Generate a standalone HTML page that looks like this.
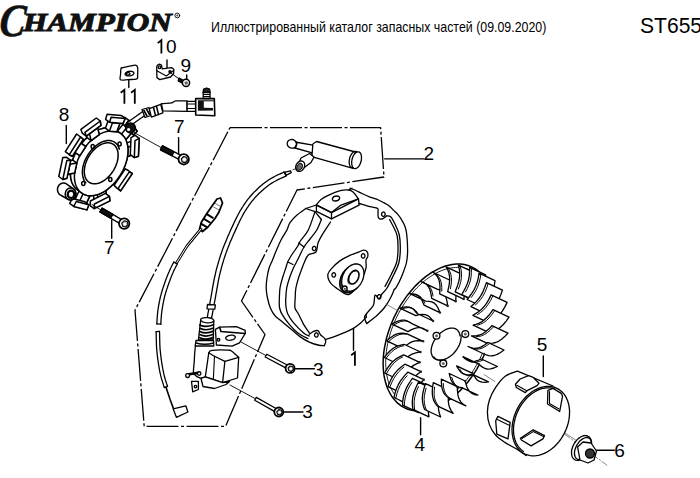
<!DOCTYPE html>
<html><head><meta charset="utf-8">
<style>
html,body{margin:0;padding:0;background:#fff;}
body{width:700px;height:478px;position:relative;overflow:hidden;font-family:"Liberation Sans",sans-serif;color:#000;}
.t{position:absolute;white-space:nowrap;line-height:1;}
.lg{position:absolute;font-family:"Liberation Serif",serif;font-style:italic;font-weight:bold;white-space:nowrap;line-height:1;color:#111;-webkit-text-stroke:1px #111;}
#c1{left:2px;top:-2px;font-size:46px;transform-origin:0 0;transform:scaleX(0.85) skewX(-6deg);-webkit-text-stroke:0.6px #111;}
#c2{left:23px;top:9.7px;font-size:26px;transform-origin:0 0;transform:scaleX(1.198);}
#reg{position:absolute;left:175px;top:12px;font-size:7px;}
#hdr{left:210.6px;top:19.8px;font-size:14.6px;transform-origin:0 0;transform:scaleX(0.848);}
#st{left:640px;top:16px;font-size:21.4px;transform-origin:0 0;transform:scaleX(0.985);}
.n{position:absolute;font-size:19px;line-height:1;}
svg{position:absolute;left:0;top:0;}
</style></head><body>
<div class="lg" id="c1">C</div><div class="lg" id="c2">HAMPION</div>
<div class="t" id="hdr">Иллюстрированный каталог запасных частей (09.09.2020)</div>
<div class="t" id="st">ST655</div>
<div class="n" style="left:166px;top:37px">0</div>
<div class="n" style="left:180.6px;top:56.2px">9</div>
<div class="n" style="left:58.8px;top:105.2px">8</div>
<div class="n" style="left:174px;top:117px">7</div>
<div class="n" style="left:103.9px;top:238.3px">7</div>
<div class="n" style="left:423.5px;top:143.9px">2</div>
<div class="n" style="left:312.9px;top:360.4px">3</div>
<div class="n" style="left:302.2px;top:401.8px">3</div>
<div class="n" style="left:536.8px;top:334.9px">5</div>
<div class="n" style="left:414.4px;top:435.3px">4</div>
<div class="n" style="left:614.3px;top:441.1px">6</div>
<svg width="700" height="478" viewBox="0 0 700 478" fill="none" stroke="#000" stroke-width="1.3" stroke-linecap="round" stroke-linejoin="round">
<path d="M230 127.7 L380.6 127.7 L384 177 L297 190 L241.5 301 L265 334.5 L225.5 426.4 L144.2 426.4 L135 310.2 Z" stroke-dasharray="32 2.5 3 2.5" stroke-width="1.3" stroke-linecap="butt"/>
<g stroke-width="1.4">
<path d="M167 60 V67.5"/><path d="M186.7 75 V79"/><path d="M128.8 80 V87.5"/><path d="M66.3 125.5 V143.5"/>
<path d="M178.6 137.6 V155"/><path d="M111.7 220 V238.3"/><path d="M384.7 158.9 H424"/>
<path d="M295.2 368.8 H314.4"/><path d="M283.5 412 H303"/><path d="M353.5 328.4 V350.3"/>
<path d="M543.3 356 V376.6"/><path d="M420.6 417.7 V434.8"/><path d="M594.7 450.3 H614.3"/>
</g>
<path d="M157.7 43.1 L161.4 40.2 V53.4" stroke-width="1.8" stroke-linecap="butt" stroke-linejoin="miter"/><path d="M120.7 92.8 L124.4 89.9 V103.7" stroke-width="1.8" stroke-linecap="butt" stroke-linejoin="miter"/><path d="M131.1 92.8 L134.8 89.9 V103.7" stroke-width="1.8" stroke-linecap="butt" stroke-linejoin="miter"/><path d="M351.2 355.3 L354.9 352.4 V365.7" stroke-width="1.8" stroke-linecap="butt" stroke-linejoin="miter"/>
<circle cx="177.3" cy="15.5" r="2.4" stroke-width="0.9"/><circle cx="177.3" cy="15.5" r="0.9" fill="#333" stroke="none"/>
<g stroke-width="1.3"><path d="M350.0 188.2 C351.0 188.6 354.0 189.6 356.0 190.5 C358.0 191.4 359.7 192.4 362.0 193.5 C364.3 194.6 367.3 196.0 370.0 197.1 C372.7 198.2 375.9 198.9 378.4 200.0 C380.9 201.1 383.3 202.4 385.1 203.4 C386.9 204.4 387.8 204.8 389.2 205.9 C390.6 207.0 392.0 208.7 393.4 210.1 C394.8 211.5 396.2 212.5 397.6 214.2 C399.0 215.9 400.6 218.0 401.8 220.1 C403.1 222.2 404.3 224.3 405.1 226.8 C405.9 229.3 406.4 231.1 406.8 235.0 C407.2 238.9 407.6 245.5 407.6 250.0 C407.6 254.5 407.3 258.4 406.6 262.0 C405.9 265.6 404.7 268.4 403.5 271.7 C402.3 275.0 400.6 279.0 399.3 281.8 C398.0 284.6 396.1 287.4 395.5 288.5" /><path d="M394.3 289.3 C393.7 290.8 392.1 295.0 390.5 298.0 C388.9 301.0 386.6 304.8 384.5 307.5 C382.4 310.2 380.1 312.5 378.0 314.5 C375.9 316.5 373.9 318.0 372.0 319.5 C370.1 321.0 367.6 322.9 366.7 323.6" /><path d="M395.5 288.5 L394.3 289.3" /><path d="M386.7 215.9 C387.4 216.1 389.5 215.6 390.9 217.0 C392.3 218.4 393.7 221.3 395.1 224.3 C396.5 227.3 398.4 230.7 399.3 235.0 C400.2 239.3 400.4 245.3 400.3 250.0 C400.2 254.7 399.9 258.8 398.8 263.0 C397.7 267.2 395.6 270.8 393.6 275.0 C391.6 279.2 389.0 284.8 387.0 288.0 C385.0 291.2 382.4 293.4 381.5 294.5" /><path d="M389.6 219.5 C390.2 220.7 392.0 223.8 393.3 226.5 C394.6 229.2 396.4 232.1 397.2 236.0 C398.0 239.9 398.1 245.6 398.0 250.0 C397.9 254.4 397.7 258.5 396.6 262.5 C395.5 266.5 393.4 270.0 391.5 274.0 C389.6 278.0 386.1 284.4 385.0 286.5" /><path d="M359.0 203.5 C360.8 204.0 366.9 205.9 370.0 206.7 C373.1 207.5 376.2 207.5 377.5 208.4 C378.8 209.3 377.9 210.5 378.0 212.0 C378.1 213.5 377.7 216.4 378.4 217.6 C379.1 218.8 380.6 219.3 382.0 219.0 C383.4 218.7 385.9 216.4 386.7 215.9" /><path d="M381.5 294.5 C381.1 295.2 380.1 298.7 379.0 298.8 C377.9 298.9 375.9 294.1 375.0 295.2 C374.1 296.3 374.8 302.1 373.4 305.2 C372.0 308.2 367.9 311.5 366.7 313.5 C365.5 315.5 366.4 316.5 366.4 317.1" /><path d="M366.7 313.5 C366.3 314.2 364.5 315.8 364.5 317.5 C364.5 319.2 366.3 322.6 366.7 323.6" /><path d="M305.8 208.5 C304.3 209.6 299.6 212.7 297.0 215.0 C294.4 217.3 291.7 220.1 290.0 222.6 C288.3 225.1 288.4 227.1 286.9 230.0 C285.4 232.9 282.7 236.7 281.0 240.0 C279.3 243.3 277.9 246.7 276.5 250.0 C275.1 253.3 273.7 257.0 272.5 260.0 C271.3 263.0 270.0 265.0 269.1 268.0 C268.2 271.0 267.5 274.7 267.0 278.0 C266.5 281.3 266.1 284.7 266.2 288.0 C266.3 291.3 266.8 294.7 267.5 298.0 C268.2 301.3 269.1 305.1 270.4 308.0 C271.6 310.9 272.8 313.2 275.0 315.7 C277.2 318.2 280.8 320.5 283.6 322.9 C286.5 325.3 289.2 327.6 292.1 330.0 C295.0 332.4 297.8 335.1 300.7 337.1 C303.6 339.1 306.4 340.8 309.3 342.1 C312.2 343.4 315.4 344.4 317.9 345.0 C320.4 345.6 323.2 345.6 324.3 345.7" /><path d="M315.0 211.6 C313.9 214.7 310.6 225.3 308.3 230.0 C306.0 234.7 302.8 237.3 301.0 240.0 C299.2 242.7 299.3 243.6 297.6 246.3 C295.9 249.0 292.6 253.4 291.0 256.0 C289.4 258.6 288.6 260.0 287.7 262.0 C286.8 264.0 286.7 265.3 285.8 268.0 C284.9 270.7 283.5 274.7 282.5 278.0 C281.5 281.3 280.5 284.3 280.0 288.0 C279.5 291.7 279.4 296.7 279.3 300.0 C279.2 303.3 279.1 305.6 279.6 308.0 C280.1 310.4 280.5 311.6 282.1 314.3 C283.7 317.0 286.7 321.2 289.3 324.3 C291.9 327.4 294.8 330.5 297.9 332.9 C301.0 335.3 306.2 337.7 307.9 338.6" /><path d="M321.4 219.5 C320.6 221.2 318.7 226.8 316.8 230.0 C314.9 233.2 312.1 236.2 310.0 239.0 C307.9 241.8 305.8 244.0 304.0 247.0 C302.2 250.0 300.3 254.3 299.0 257.0 C297.7 259.7 296.9 261.2 296.0 263.0 C295.1 264.8 294.5 265.5 293.4 268.0 C292.3 270.5 290.6 274.7 289.5 278.0 C288.4 281.3 287.3 284.3 286.7 288.0 C286.1 291.7 285.8 296.7 285.7 300.0 C285.6 303.3 285.8 305.6 286.2 308.0 C286.6 310.4 286.7 311.8 287.9 314.3 C289.1 316.8 291.0 319.8 293.6 322.9 C296.2 326.0 301.0 330.7 303.6 332.9 C306.2 335.1 308.4 335.5 309.3 336.0" /><path d="M330.5 222.0 C329.1 224.2 324.1 231.6 322.0 235.1 C319.9 238.6 319.0 240.2 318.0 243.0 C317.0 245.8 317.6 250.0 316.0 252.0 C314.4 254.0 310.2 253.2 308.3 254.9 C306.4 256.6 305.5 259.8 304.5 262.0 C303.5 264.2 303.1 265.3 302.1 268.0 C301.1 270.7 299.5 274.7 298.5 278.0 C297.5 281.3 296.4 284.7 295.9 288.0 C295.3 291.3 295.3 294.7 295.2 298.0 C295.1 301.3 294.4 305.3 295.0 308.0 C295.6 310.7 297.2 311.6 298.6 314.3 C300.0 317.0 301.8 321.2 303.6 324.3 C305.4 327.4 308.4 331.5 309.3 332.9" /><path d="M298.8 242.9 L304 247 M287.7 262 L293 264.5" /><path d="M305.8 208.5 L315 211.6 L321.4 219.5" /><path d="M309.3 334.3 C310.0 333.8 312.2 332.0 313.6 331.4 C315.0 330.8 316.7 330.1 317.9 330.7 C319.1 331.3 319.6 333.8 320.7 335.0 C321.8 336.2 323.5 336.8 324.3 337.9 C325.1 339.0 325.7 340.1 325.7 341.4 C325.7 342.7 324.5 345.0 324.3 345.7" /><path d="M325.7 339.3 C327.2 338.8 332.0 337.5 335.0 336.4 C338.0 335.3 340.6 334.2 343.6 332.9 C346.6 331.6 350.0 330.3 352.9 328.6 C355.8 326.9 358.4 324.8 360.7 322.9 C362.9 321.0 365.4 318.1 366.4 317.1" /><path d="M316.4 211.4 L331.5 218.9 L359.1 205.1 L358.5 198.8 L331.5 212.6 L316.4 205.1 Z" /><path d="M316.4 204.8 C317.2 203.9 319.1 201.0 321.0 199.5 C322.9 198.0 324.5 197.2 327.7 195.7 C330.9 194.2 336.8 191.6 340.3 190.7 C343.9 189.8 346.8 189.7 349.0 190.0 C351.2 190.3 352.2 191.4 353.5 192.5 C354.8 193.6 355.8 195.2 356.6 196.3 C357.4 197.4 358.2 198.4 358.5 198.8 L340.3 205.4 L331.5 212.6 Z" /><path d="M331.5 212.6 L331.5 218.9" /><path d="M336 198.5 m-3.6 0 a3.6 2.3 -15 1 0 7.2 0 a3.6 2.3 -15 1 0 -7.2 0" /><path d="M305.8 208.5 L316.4 205.0" /><path d="M349.0 190.0 L352.0 188.2" /><path d="M328.0 273.8 C328.5 272.0 329.6 270.7 331.5 268.6 C333.4 266.5 336.5 263.3 339.6 261.1 C342.7 258.9 346.6 256.9 349.9 255.4 C353.1 253.9 356.8 252.8 359.1 251.9 C361.4 251.0 362.4 250.2 363.7 250.2 C365.0 250.2 366.5 250.8 367.2 251.9 C367.9 253.0 368.0 255.2 367.8 256.5 C367.6 257.9 366.3 258.1 366.0 260.0 C365.7 261.9 366.6 265.1 366.0 268.0 C365.4 270.9 364.1 274.3 362.6 277.2 C361.1 280.1 358.3 283.0 356.8 285.3 C355.3 287.6 354.7 289.5 353.4 291.0 C352.1 292.5 350.3 294.1 348.8 294.5 C347.3 294.9 346.1 294.3 344.2 293.3 C342.3 292.3 339.4 290.2 337.3 288.7 C335.2 287.2 332.9 285.6 331.5 284.1 C330.1 282.6 329.2 281.2 328.6 279.5 C328.0 277.8 327.5 275.6 328.0 273.8 Z" /><path d="M335.6 274.9 L335.4 275.8 L335.0 276.5 L334.4 277.0 L333.6 277.1 L332.9 276.8 L332.3 276.2 L332.0 275.4 L332.0 274.4 L332.3 273.6 L332.9 273.0 L333.6 272.7 L334.4 272.8 L335.0 273.3 L335.4 274.0 L335.6 274.9 Z" /><path d="M365.0 255.9 L364.8 256.8 L364.4 257.5 L363.8 258.0 L363.0 258.1 L362.3 257.8 L361.7 257.2 L361.4 256.4 L361.4 255.4 L361.7 254.6 L362.3 254.0 L363.0 253.7 L363.8 253.8 L364.4 254.3 L364.8 255.0 L365.0 255.9 Z" /><path d="M346.5 288.2 L346.3 289.1 L345.9 289.8 L345.3 290.3 L344.5 290.4 L343.8 290.1 L343.2 289.5 L342.9 288.7 L342.9 287.7 L343.2 286.9 L343.8 286.3 L344.5 286.0 L345.3 286.1 L345.9 286.6 L346.3 287.3 L346.5 288.2 Z" /><path d="M316.0 248.5 L315.8 249.4 L315.4 250.1 L314.8 250.6 L314.0 250.7 L313.3 250.4 L312.7 249.8 L312.4 249.0 L312.4 248.0 L312.7 247.2 L313.3 246.6 L314.0 246.3 L314.8 246.4 L315.4 246.9 L315.8 247.6 L316.0 248.5 Z" /><path d="M385.2 214.2 L385.0 215.1 L384.6 215.8 L384.0 216.3 L383.2 216.4 L382.5 216.1 L381.9 215.5 L381.6 214.7 L381.6 213.7 L381.9 212.9 L382.5 212.3 L383.2 212.0 L384.0 212.1 L384.6 212.6 L385.0 213.3 L385.2 214.2 Z" /><path d="M381.0 296.8 L380.8 297.7 L380.4 298.4 L379.8 298.9 L379.0 299.0 L378.3 298.7 L377.7 298.1 L377.4 297.3 L377.4 296.3 L377.7 295.5 L378.3 294.9 L379.0 294.6 L379.8 294.7 L380.4 295.2 L380.8 295.9 L381.0 296.8 Z" /><path d="M318.2 335.0 L318.0 335.9 L317.6 336.6 L317.0 337.1 L316.2 337.2 L315.5 336.9 L314.9 336.3 L314.6 335.5 L314.6 334.5 L314.9 333.7 L315.5 333.1 L316.2 332.8 L317.0 332.9 L317.6 333.4 L318.0 334.1 L318.2 335.0 Z" /></g>
<g stroke-width="1.3"><path d="M359.6 284.0 L358.7 285.6 L357.6 287.1 L356.4 288.5 L355.2 289.7 L353.8 290.7 L352.4 291.6 L351.0 292.2 L349.6 292.7 L348.1 292.9 L346.8 292.9 L345.5 292.7 L344.3 292.2 L343.2 291.6 L342.2 290.7 L341.4 289.7 L340.7 288.5 L340.2 287.1 L339.8 285.6 L339.7 284.0 L339.7 282.3 L339.9 280.6 L340.3 278.9 L340.8 277.1 L341.6 275.4 L342.4 273.8 L343.4 272.2 L344.6 270.8 L345.8 269.5 L347.1 268.4 L348.5 267.4 L349.9 266.7 L351.3 266.1 L352.8 265.8 L354.1 265.7 L355.5 265.8 L356.7 266.1 L357.9 266.7 L358.9 267.4 L359.8 268.4 L360.6 269.5 L361.2 270.8 L361.6 272.2 L361.9 273.8 L361.9 275.4 L361.8 277.1 L361.5 278.8 L361.1 280.6 L360.4 282.3 L359.6 284.0 Z" fill="#444"/><path d="M361.6 282.2 L360.7 283.8 L359.6 285.3 L358.4 286.7 L357.2 287.9 L355.8 288.9 L354.4 289.8 L353.0 290.4 L351.6 290.9 L350.1 291.1 L348.8 291.1 L347.5 290.9 L346.3 290.4 L345.2 289.8 L344.2 288.9 L343.4 287.9 L342.7 286.7 L342.2 285.3 L341.8 283.8 L341.7 282.2 L341.7 280.5 L341.9 278.8 L342.3 277.1 L342.8 275.3 L343.6 273.6 L344.4 272.0 L345.4 270.4 L346.6 269.0 L347.8 267.7 L349.1 266.6 L350.5 265.6 L351.9 264.9 L353.3 264.3 L354.8 264.0 L356.1 263.9 L357.5 264.0 L358.7 264.3 L359.9 264.9 L360.9 265.6 L361.8 266.6 L362.6 267.7 L363.2 269.0 L363.6 270.4 L363.9 272.0 L363.9 273.6 L363.8 275.3 L363.5 277.0 L363.1 278.8 L362.4 280.5 L361.6 282.2 Z" fill="#fff"/><path d="M358.0 279.1 L357.4 280.2 L356.8 281.1 L356.1 282.0 L355.3 282.7 L354.5 283.3 L353.7 283.7 L352.8 283.9 L352.0 284.0 L351.3 283.9 L350.6 283.6 L350.0 283.2 L349.5 282.6 L349.1 281.9 L348.8 281.0 L348.7 280.1 L348.7 279.0 L348.8 278.0 L349.0 276.9 L349.4 275.8 L349.9 274.7 L350.5 273.8 L351.2 272.9 L351.9 272.1 L352.7 271.4 L353.5 270.9 L354.4 270.6 L355.2 270.4 L355.9 270.4 L356.7 270.6 L357.3 271.0 L357.9 271.5 L358.3 272.1 L358.7 272.9 L358.9 273.8 L359.0 274.8 L358.9 275.9 L358.7 277.0 L358.4 278.1 L358.0 279.1 Z" fill="#fff" stroke-width="1.6"/><path d="M349.3 284.1 L348.8 283.6 L348.4 282.9 L348.1 282.2 L347.9 281.4 L347.8 280.5 L347.9 279.5 L348.0 278.5 L348.3 277.5 L348.6 276.5 L349.1 275.6 L349.6 274.7 L350.2 273.8 L350.9 273.1 L351.6 272.5 L352.3 271.9 L353.1 271.5 L353.8 271.3 L354.6 271.2 L355.3 271.2" stroke-width="1.0"/><ellipse cx="344.7" cy="288.6" rx="2.4" ry="2.6" fill="#fff" stroke-width="1.4"/><ellipse cx="344.9" cy="288.8" rx="1" ry="1.1" fill="#444" stroke="none"/></g>
<g stroke-width="1.2"><path d="M482.5 358.5 L481.1 361.3 L479.7 364.0 L478.2 366.7 L476.7 369.3 L475.1 371.9 L473.4 374.4 L471.7 376.9 L469.9 379.3 L468.1 381.7 L466.2 384.0 L464.3 386.2 L462.3 388.3 L460.3 390.4 L458.3 392.3 L456.2 394.2 L454.2 396.0 L452.0 397.7 L449.9 399.4 L447.8 400.9 L445.6 402.3 L443.4 403.6 L441.2 404.8 L439.1 405.9 L436.9 406.9 L434.7 407.8 L432.5 408.6 L430.3 409.3 L428.2 409.8 L426.0 410.3 L423.9 410.6 L421.8 410.8 L419.7 411.0 L417.7 410.9 L415.7 410.8 L413.7 410.6 L411.8 410.2 L409.9 409.8 L408.0 409.2 L406.2 408.5 L404.5 407.7 L402.8 406.8 L401.1 405.8 L399.6 404.6 L398.0 403.4 L396.6 402.1 L395.2 400.6 L393.9 399.1 L392.6 397.5 L391.4 395.7 L390.3 393.9 L389.3 392.0 L388.3 390.0 L387.4 388.0 L386.6 385.8 L385.9 383.6 L385.3 381.3 L384.7 378.9 L384.2 376.5 L383.8 374.0 L383.5 371.5 L383.3 368.9 L383.2 366.2 L383.1 363.5 L383.2 360.8 L383.3 358.0 L383.5 355.2 L383.8 352.4 L384.2 349.5 L384.7 346.7 L385.3 343.8 L385.9 340.9 L386.6 338.0 L387.4 335.1 L388.3 332.2 L389.3 329.3 L390.3 326.4 L391.4 323.6 L392.6 320.7 L393.8 317.9 L395.2 315.1 L396.6 312.4 L398.0 309.7 L399.5 307.0 L401.1 304.4 L402.8 301.8 L404.5 299.3 L406.2 296.9 L408.0 294.5 L409.9 292.2 L411.8 289.9 L413.7 287.7 L415.7 285.6 L417.7 283.6 L419.7 281.7 L421.8 279.9 L423.9 278.1 L426.0 276.4 L428.2 274.9 L430.3 273.4 L432.5 272.0 L434.7 270.8 L436.9 269.6 L439.0 268.6 L441.2 267.6 L443.4 266.8 L445.6 266.0 L447.7 265.4 L449.9 264.9 L452.0 264.5 L454.1 264.2 L456.2 264.1 L458.3 264.0 L460.3 264.1 L462.3 264.3 L464.3 264.6 L466.2 265.0 L468.0 265.5 L469.9 266.1 L471.6 266.9 L473.4 267.8 L475.0 268.7 L476.7 269.8 L478.2 271.0 L479.7 272.3 L481.1 273.6 L482.5 275.1 L483.8 276.7 L485.0 278.4 L486.2 280.1 L487.2 282.0 L488.2 284.0 L489.2 286.0 L490.0 288.1 L490.8 290.3 L491.4 292.5 L492.0 294.9 L492.5 297.3 L493.0 299.7 L493.3 302.2 L493.6 304.8 L493.8 307.4 L493.8 310.1 L493.8 312.8 L493.8 315.6 L493.6 318.4 L493.3 321.2 L493.0 324.0 L492.6 326.9 L492.0 329.8 L491.4 332.7 L490.8 335.6 L490.0 338.5 L489.2 341.4 L488.2 344.3 L487.2 347.1 L486.2 350.0 L485.0 352.9 L483.8 355.7 L482.5 358.5 Z" fill="#fff" stroke-width="1.5"/><path d="M480.5 357.5 L479.2 360.2 L477.8 362.8 L476.4 365.3 L474.9 367.8 L473.4 370.3 L471.8 372.7 L470.1 375.1 L468.4 377.4 L466.7 379.6 L464.9 381.8 L463.1 383.9 L461.2 386.0 L459.3 387.9 L457.4 389.8 L455.4 391.6 L453.4 393.3 L451.4 395.0 L449.4 396.5 L447.3 398.0 L445.3 399.3 L443.2 400.6 L441.1 401.7 L439.0 402.8 L436.9 403.7 L434.9 404.6 L432.8 405.3 L430.7 406.0 L428.7 406.5 L426.6 406.9 L424.6 407.3 L422.6 407.5 L420.6 407.6 L418.7 407.6 L416.7 407.4 L414.9 407.2 L413.0 406.9 L411.2 406.4 L409.4 405.9 L407.7 405.2 L406.1 404.5 L404.4 403.6 L402.9 402.6 L401.4 401.5 L399.9 400.4 L398.5 399.1 L397.2 397.7 L395.9 396.3 L394.7 394.7 L393.6 393.1 L392.5 391.3 L391.5 389.5 L390.6 387.6 L389.8 385.6 L389.0 383.6 L388.3 381.5 L387.7 379.3 L387.2 377.0 L386.7 374.7 L386.4 372.3 L386.1 369.9 L385.9 367.4 L385.7 364.9 L385.7 362.3 L385.7 359.7 L385.9 357.1 L386.1 354.4 L386.4 351.7 L386.7 349.0 L387.2 346.3 L387.7 343.5 L388.3 340.7 L389.0 338.0 L389.8 335.2 L390.6 332.4 L391.5 329.7 L392.5 326.9 L393.6 324.2 L394.7 321.5 L395.9 318.8 L397.2 316.2 L398.5 313.5 L399.9 311.0 L401.3 308.4 L402.9 305.9 L404.4 303.5 L406.0 301.1 L407.7 298.7 L409.4 296.5 L411.2 294.3 L413.0 292.1 L414.8 290.0 L416.7 288.0 L418.7 286.1 L420.6 284.3 L422.6 282.5 L424.6 280.8 L426.6 279.3 L428.6 277.8 L430.7 276.4 L432.8 275.1 L434.8 273.8 L436.9 272.7 L439.0 271.7 L441.1 270.8 L443.2 270.0 L445.3 269.3 L447.3 268.7 L449.4 268.3 L451.4 267.9 L453.4 267.6 L455.4 267.5 L457.4 267.4 L459.3 267.5 L461.2 267.7 L463.1 267.9 L464.9 268.3 L466.7 268.8 L468.4 269.4 L470.1 270.2 L471.8 271.0 L473.4 271.9 L474.9 272.9 L476.4 274.0 L477.8 275.3 L479.2 276.6 L480.5 278.0 L481.7 279.5 L482.9 281.1 L484.0 282.8 L485.0 284.6 L485.9 286.4 L486.8 288.4 L487.6 290.4 L488.3 292.5 L489.0 294.6 L489.6 296.8 L490.1 299.1 L490.5 301.5 L490.8 303.9 L491.0 306.3 L491.2 308.8 L491.3 311.4 L491.3 314.0 L491.2 316.6 L491.0 319.2 L490.8 321.9 L490.5 324.6 L490.1 327.4 L489.6 330.1 L489.0 332.9 L488.3 335.6 L487.6 338.4 L486.8 341.2 L485.9 343.9 L485.0 346.7 L484.0 349.4 L482.9 352.2 L481.7 354.9 L480.5 357.5 Z" stroke-width="0.9"/><path d="M411.4 323.3 L409.2 322.0 L407.0 320.9 L404.6 320.2 L401.8 320.1 L398.8 320.8 L395.5 322.1 L392.0 324.1 L408.0 331.6 L411.5 329.6 L414.8 328.3 L417.8 327.6 L420.6 327.7 L423.0 328.4 L425.2 329.5 L427.4 330.8 Z" fill="#fff" stroke-width="1.3"/><path d="M411.0 322.9 L408.8 321.8 L406.4 321.1 L403.7 321.0 L400.6 321.6 L397.3 323.0 L393.8 325.0" stroke-width="1.0"/><circle cx="427.4" cy="330.8" r="1.2" fill="#222" stroke="none"/><path d="M417.1 313.5 L415.4 311.5 L413.7 309.6 L411.7 308.1 L409.3 307.1 L406.5 306.8 L403.3 307.1 L399.8 308.1 L415.8 315.6 L419.3 314.6 L422.5 314.3 L425.3 314.6 L427.7 315.6 L429.7 317.1 L431.4 319.0 L433.1 321.0 Z" fill="#fff" stroke-width="1.3"/><path d="M417.3 312.3 L415.5 310.4 L413.5 308.9 L411.1 307.9 L408.3 307.6 L405.1 308.0 L401.6 309.0" stroke-width="1.0"/><circle cx="433.1" cy="321.0" r="1.2" fill="#222" stroke="none"/><path d="M407.1 333.8 L404.6 333.4 L402.0 333.1 L399.3 333.3 L396.4 334.1 L393.3 335.7 L390.0 338.0 L386.7 340.9 L402.7 348.4 L406.0 345.5 L409.3 343.2 L412.4 341.6 L415.3 340.8 L418.0 340.6 L420.6 340.9 L423.1 341.3 Z" fill="#fff" stroke-width="1.3"/><path d="M406.4 334.2 L403.8 334.0 L401.1 334.2 L398.2 335.0 L395.1 336.5 L391.8 338.8 L388.5 341.8" stroke-width="1.0"/><circle cx="423.1" cy="341.3" r="1.2" fill="#222" stroke="none"/><path d="M424.0 305.1 L422.9 302.4 L421.7 299.8 L420.2 297.5 L418.3 295.7 L415.8 294.4 L412.9 293.8 L409.7 293.6 L425.7 301.1 L428.9 301.3 L431.8 301.9 L434.3 303.2 L436.2 305.0 L437.7 307.3 L438.9 309.9 L440.0 312.6 Z" fill="#fff" stroke-width="1.3"/><path d="M424.7 303.2 L423.5 300.6 L422.0 298.3 L420.1 296.5 L417.6 295.3 L414.7 294.6 L411.5 294.5" stroke-width="1.0"/><circle cx="440.0" cy="312.6" r="1.2" fill="#222" stroke="none"/><path d="M404.5 344.5 L401.8 344.9 L399.0 345.6 L396.1 346.6 L393.2 348.3 L390.2 350.7 L387.2 353.8 L384.2 357.5 L400.2 365.0 L403.2 361.3 L406.2 358.2 L409.2 355.8 L412.1 354.1 L415.0 353.1 L417.8 352.4 L420.5 352.0 Z" fill="#fff" stroke-width="1.3"/><path d="M403.6 345.8 L400.8 346.4 L398.0 347.5 L395.0 349.1 L392.0 351.5 L389.0 354.6 L386.0 358.3" stroke-width="1.0"/><circle cx="420.5" cy="352.0" r="1.2" fill="#222" stroke="none"/><path d="M431.7 298.4 L431.2 295.1 L430.6 292.0 L429.7 289.1 L428.3 286.5 L426.4 284.4 L424.0 282.7 L421.1 281.6 L437.1 289.1 L440.0 290.2 L442.4 291.9 L444.3 294.0 L445.7 296.6 L446.6 299.5 L447.2 302.6 L447.7 305.9 Z" fill="#fff" stroke-width="1.3"/><path d="M433.0 296.0 L432.4 292.9 L431.5 289.9 L430.2 287.4 L428.2 285.2 L425.8 283.6 L422.9 282.4" stroke-width="1.0"/><circle cx="447.7" cy="305.9" r="1.2" fill="#222" stroke="none"/><path d="M403.7 354.8 L400.9 356.1 L398.1 357.6 L395.3 359.4 L392.5 361.9 L389.8 365.0 L387.1 368.7 L384.6 373.0 L400.6 380.5 L403.1 376.2 L405.8 372.5 L408.5 369.4 L411.3 366.9 L414.1 365.1 L416.9 363.6 L419.7 362.3 Z" fill="#fff" stroke-width="1.3"/><path d="M402.7 357.0 L399.9 358.4 L397.1 360.3 L394.3 362.7 L391.6 365.8 L388.9 369.6 L386.4 373.8" stroke-width="1.0"/><circle cx="419.7" cy="362.3" r="1.2" fill="#222" stroke="none"/><path d="M439.7 293.8 L439.9 290.2 L440.0 286.7 L439.7 283.3 L439.0 280.1 L437.7 277.2 L435.8 274.7 L433.5 272.5 L449.5 280.0 L451.8 282.2 L453.7 284.7 L455.0 287.6 L455.7 290.8 L456.0 294.2 L455.9 297.7 L455.7 301.3 Z" fill="#fff" stroke-width="1.3"/><path d="M441.7 291.1 L441.8 287.5 L441.5 284.1 L440.8 281.0 L439.5 278.1 L437.6 275.5 L435.3 273.3" stroke-width="1.0"/><circle cx="455.7" cy="301.3" r="1.2" fill="#222" stroke="none"/><path d="M404.9 364.2 L402.1 366.3 L399.4 368.5 L396.7 371.1 L394.2 374.1 L391.9 377.8 L389.8 382.0 L387.9 386.6 L403.9 394.1 L405.8 389.5 L407.9 385.3 L410.2 381.6 L412.7 378.6 L415.4 376.0 L418.1 373.8 L420.9 371.7 Z" fill="#fff" stroke-width="1.3"/><path d="M403.9 367.1 L401.2 369.4 L398.6 371.9 L396.1 375.0 L393.7 378.6 L391.6 382.8 L389.7 387.4" stroke-width="1.0"/><circle cx="420.9" cy="371.7" r="1.2" fill="#222" stroke="none"/><path d="M447.7 291.6 L448.5 287.8 L449.3 284.1 L449.6 280.4 L449.6 276.8 L449.0 273.3 L447.8 270.0 L446.1 266.9 L462.1 274.4 L463.8 277.5 L465.0 280.8 L465.6 284.3 L465.6 287.9 L465.3 291.6 L464.5 295.3 L463.7 299.1 Z" fill="#fff" stroke-width="1.3"/><path d="M450.4 288.7 L451.1 284.9 L451.5 281.3 L451.4 277.7 L450.8 274.2 L449.6 270.9 L447.9 267.8" stroke-width="1.0"/><circle cx="463.7" cy="299.1" r="1.2" fill="#222" stroke="none"/><path d="M407.8 372.2 L405.3 374.9 L402.8 377.8 L400.5 380.9 L398.4 384.4 L396.6 388.4 L395.1 392.8 L394.0 397.5 L410.0 405.0 L411.1 400.3 L412.6 395.9 L414.4 391.9 L416.5 388.4 L418.8 385.3 L421.3 382.4 L423.8 379.7 Z" fill="#fff" stroke-width="1.3"/><path d="M407.1 375.8 L404.6 378.6 L402.3 381.7 L400.2 385.3 L398.4 389.3 L396.9 393.7 L395.8 398.4" stroke-width="1.0"/><circle cx="423.8" cy="379.7" r="1.2" fill="#222" stroke="none"/><path d="M455.2 291.8 L456.6 288.1 L457.9 284.4 L459.0 280.6 L459.6 276.8 L459.7 272.9 L459.3 269.0 L458.4 265.1 L474.4 272.6 L475.3 276.5 L475.7 280.4 L475.6 284.3 L475.0 288.1 L473.9 291.9 L472.6 295.6 L471.2 299.3 Z" fill="#fff" stroke-width="1.3"/><path d="M458.4 289.0 L459.8 285.2 L460.8 281.5 L461.4 277.6 L461.5 273.7 L461.1 269.8 L460.2 266.0" stroke-width="1.0"/><circle cx="471.2" cy="299.3" r="1.2" fill="#222" stroke="none"/><path d="M412.4 378.3 L410.2 381.5 L408.1 384.9 L406.2 388.4 L404.7 392.2 L403.5 396.3 L402.8 400.7 L402.5 405.2 L418.5 412.7 L418.8 408.2 L419.5 403.8 L420.7 399.7 L422.2 395.9 L424.1 392.4 L426.2 389.0 L428.4 385.8 Z" fill="#fff" stroke-width="1.3"/><path d="M412.0 382.4 L409.9 385.7 L408.0 389.2 L406.5 393.0 L405.3 397.2 L404.6 401.5 L404.3 406.1" stroke-width="1.0"/><circle cx="428.4" cy="385.8" r="1.2" fill="#222" stroke="none"/><path d="M461.8 294.5 L463.7 291.1 L465.6 287.5 L467.2 283.9 L468.5 280.0 L469.3 275.9 L469.6 271.6 L469.6 267.3 L485.6 274.8 L485.6 279.1 L485.3 283.4 L484.5 287.5 L483.2 291.4 L481.6 295.0 L479.7 298.6 L477.8 302.0 Z" fill="#fff" stroke-width="1.3"/><path d="M465.5 291.9 L467.4 288.4 L469.0 284.7 L470.3 280.9 L471.1 276.8 L471.4 272.5 L471.4 268.1" stroke-width="1.0"/><circle cx="477.8" cy="302.0" r="1.2" fill="#222" stroke="none"/><path d="M418.4 382.2 L416.7 385.7 L415.1 389.4 L413.7 393.1 L412.8 397.0 L412.3 401.0 L412.4 405.2 L412.9 409.3 L428.9 416.8 L428.4 412.7 L428.3 408.5 L428.8 404.5 L429.7 400.6 L431.1 396.9 L432.7 393.2 L434.4 389.7 Z" fill="#fff" stroke-width="1.3"/><path d="M418.5 386.6 L416.9 390.2 L415.5 394.0 L414.6 397.9 L414.1 401.9 L414.2 406.0 L414.7 410.1" stroke-width="1.0"/><circle cx="434.4" cy="389.7" r="1.2" fill="#222" stroke="none"/><path d="M467.1 299.5 L469.5 296.5 L471.8 293.4 L473.9 290.0 L475.7 286.3 L477.2 282.3 L478.3 277.8 L479.0 273.2 L495.0 280.7 L494.3 285.3 L493.2 289.8 L491.7 293.8 L489.9 297.5 L487.8 300.9 L485.5 304.0 L483.1 307.0 Z" fill="#fff" stroke-width="1.3"/><path d="M471.3 297.4 L473.6 294.2 L475.7 290.9 L477.5 287.2 L479.0 283.1 L480.1 278.7 L480.9 274.0" stroke-width="1.0"/><circle cx="483.1" cy="307.0" r="1.2" fill="#222" stroke="none"/><path d="M425.5 383.6 L424.3 387.4 L423.3 391.1 L422.6 394.9 L422.3 398.6 L422.6 402.3 L423.4 406.0 L424.6 409.5 L440.6 417.0 L439.4 413.5 L438.6 409.8 L438.3 406.1 L438.6 402.4 L439.3 398.6 L440.3 394.9 L441.5 391.1 Z" fill="#fff" stroke-width="1.3"/><path d="M426.1 388.2 L425.1 392.0 L424.4 395.7 L424.1 399.5 L424.4 403.2 L425.2 406.8 L426.5 410.3" stroke-width="1.0"/><circle cx="441.5" cy="391.1" r="1.2" fill="#222" stroke="none"/><path d="M470.9 306.6 L473.6 304.2 L476.2 301.6 L478.7 298.8 L481.0 295.4 L483.0 291.6 L484.8 287.3 L486.4 282.6 L502.4 290.1 L500.8 294.8 L499.0 299.1 L497.0 302.9 L494.7 306.3 L492.2 309.1 L489.6 311.7 L486.9 314.1 Z" fill="#fff" stroke-width="1.3"/><path d="M475.4 305.0 L478.0 302.5 L480.5 299.6 L482.8 296.3 L484.9 292.4 L486.7 288.1 L488.2 283.4" stroke-width="1.0"/><circle cx="486.9" cy="314.1" r="1.2" fill="#222" stroke="none"/><path d="M433.3 382.6 L432.7 386.3 L432.3 390.0 L432.3 393.5 L432.7 396.9 L433.6 400.1 L435.2 403.1 L437.2 405.8 L453.2 413.3 L451.2 410.6 L449.6 407.6 L448.7 404.4 L448.3 401.0 L448.3 397.5 L448.7 393.8 L449.3 390.1 Z" fill="#fff" stroke-width="1.3"/><path d="M434.5 387.2 L434.2 390.8 L434.1 394.4 L434.5 397.8 L435.5 401.0 L437.0 403.9 L439.0 406.6" stroke-width="1.0"/><circle cx="449.3" cy="390.1" r="1.2" fill="#222" stroke="none"/><path d="M472.9 315.3 L475.7 313.6 L478.5 311.8 L481.3 309.6 L483.9 306.8 L486.5 303.4 L488.9 299.4 L491.1 294.9 L507.1 302.4 L504.9 306.9 L502.5 310.9 L499.9 314.3 L497.3 317.1 L494.5 319.3 L491.7 321.1 L488.9 322.8 Z" fill="#fff" stroke-width="1.3"/><path d="M477.6 314.5 L480.3 312.6 L483.1 310.4 L485.7 307.6 L488.3 304.2 L490.7 300.3 L492.9 295.8" stroke-width="1.0"/><circle cx="488.9" cy="322.8" r="1.2" fill="#222" stroke="none"/><path d="M441.3 379.2 L441.4 382.6 L441.7 386.0 L442.3 389.2 L443.4 392.1 L445.0 394.6 L447.2 396.7 L449.8 398.4 L465.8 405.9 L463.2 404.2 L461.0 402.1 L459.4 399.6 L458.3 396.7 L457.7 393.5 L457.4 390.1 L457.3 386.7 Z" fill="#fff" stroke-width="1.3"/><path d="M443.3 383.5 L443.5 386.8 L444.1 390.0 L445.2 392.9 L446.8 395.4 L449.0 397.5 L451.6 399.2" stroke-width="1.0"/><circle cx="457.3" cy="386.7" r="1.2" fill="#222" stroke="none"/><path d="M473.1 325.2 L475.9 324.4 L478.7 323.3 L481.6 321.9 L484.4 319.8 L487.3 317.0 L490.2 313.6 L493.0 309.6 L509.0 317.1 L506.2 321.1 L503.3 324.5 L500.4 327.3 L497.6 329.4 L494.7 330.8 L491.9 331.9 L489.1 332.7 Z" fill="#fff" stroke-width="1.3"/><path d="M477.7 325.2 L480.5 324.2 L483.4 322.7 L486.3 320.7 L489.1 317.9 L492.0 314.4 L494.8 310.4" stroke-width="1.0"/><circle cx="489.1" cy="332.7" r="1.2" fill="#222" stroke="none"/><path d="M449.2 373.5 L450.0 376.5 L450.9 379.4 L452.1 382.0 L453.8 384.2 L456.0 385.9 L458.7 387.1 L461.8 387.7 L477.8 395.2 L474.7 394.6 L472.0 393.4 L469.8 391.7 L468.1 389.5 L466.9 386.9 L466.0 384.0 L465.2 381.0 Z" fill="#fff" stroke-width="1.3"/><path d="M451.8 377.4 L452.7 380.2 L454.0 382.9 L455.6 385.1 L457.8 386.8 L460.5 387.9 L463.6 388.6" stroke-width="1.0"/><circle cx="465.2" cy="381.0" r="1.2" fill="#222" stroke="none"/><path d="M471.4 335.8 L474.1 335.8 L476.8 335.6 L479.6 335.0 L482.5 333.8 L485.6 331.8 L488.7 329.1 L491.9 325.7 L507.9 333.2 L504.7 336.6 L501.6 339.3 L498.5 341.3 L495.6 342.5 L492.8 343.1 L490.1 343.3 L487.4 343.3 Z" fill="#fff" stroke-width="1.3"/><path d="M475.9 336.7 L478.6 336.5 L481.4 335.9 L484.3 334.6 L487.4 332.6 L490.5 329.9 L493.8 326.6" stroke-width="1.0"/><circle cx="487.4" cy="343.3" r="1.2" fill="#222" stroke="none"/><path d="M456.6 365.9 L458.0 368.3 L459.5 370.5 L461.2 372.5 L463.4 373.9 L466.0 374.7 L469.1 374.8 L472.5 374.4 L488.5 381.9 L485.1 382.3 L482.0 382.2 L479.4 381.4 L477.2 380.0 L475.5 378.0 L474.0 375.8 L472.6 373.4 Z" fill="#fff" stroke-width="1.3"/><path d="M459.8 369.1 L461.3 371.4 L463.0 373.3 L465.2 374.7 L467.9 375.5 L470.9 375.7 L474.3 375.2" stroke-width="1.0"/><circle cx="472.6" cy="373.4" r="1.2" fill="#222" stroke="none"/><path d="M468.0 346.5 L470.3 347.4 L472.7 348.1 L475.3 348.3 L478.1 348.0 L481.2 346.9 L484.6 345.0 L488.0 342.5 L504.0 350.0 L500.6 352.5 L497.2 354.4 L494.1 355.5 L491.3 355.8 L488.7 355.6 L486.3 354.9 L484.0 354.0 Z" fill="#fff" stroke-width="1.3"/><path d="M472.1 348.2 L474.5 348.9 L477.1 349.2 L480.0 348.8 L483.0 347.7 L486.4 345.8 L489.8 343.4" stroke-width="1.0"/><circle cx="484.0" cy="354.0" r="1.2" fill="#222" stroke="none"/><path d="M462.9 356.7 L464.8 358.4 L466.9 359.9 L469.1 361.0 L471.7 361.6 L474.6 361.4 L477.9 360.5 L481.4 359.0 L497.4 366.5 L493.9 368.0 L490.6 368.9 L487.7 369.1 L485.1 368.5 L482.9 367.4 L480.8 365.9 L478.9 364.2 Z" fill="#fff" stroke-width="1.3"/><path d="M466.7 359.2 L468.7 360.7 L470.9 361.9 L473.5 362.4 L476.4 362.3 L479.7 361.4 L483.2 359.9" stroke-width="1.0"/><circle cx="478.9" cy="364.2" r="1.2" fill="#222" stroke="none"/></g>
<g stroke-width="1.3"><path d="M454.5 351.1 L453.3 352.6 L451.9 354.0 L450.5 355.3 L449.0 356.4 L447.5 357.4 L446.0 358.3 L444.4 359.0 L442.9 359.5 L441.4 359.9 L440.0 360.0 L438.6 360.0 L437.3 359.8 L436.1 359.4 L435.0 358.9 L434.0 358.2 L433.1 357.3 L432.4 356.3 L431.9 355.1 L431.5 353.8 L431.2 352.4 L431.1 350.9 L431.2 349.4 L431.5 347.7 L431.9 346.1 L432.4 344.4 L433.1 342.7 L434.0 341.0 L435.0 339.3 L436.1 337.7 L437.3 336.2 L438.6 334.8 L440.0 333.4 L441.4 332.2 L442.9 331.2 L444.5 330.2 L446.0 329.4 L447.5 328.8 L449.0 328.4 L450.5 328.1 L451.9 328.1 L453.3 328.2 L454.5 328.4 L455.7 328.9 L456.7 329.5 L457.7 330.3 L458.4 331.3 L459.1 332.4 L459.6 333.6 L459.9 334.9 L460.0 336.4 L460.0 337.9 L459.9 339.5 L459.6 341.2 L459.1 342.9 L458.4 344.6 L457.7 346.3 L456.7 347.9 L455.7 349.6 L454.5 351.1 Z" fill="#fff"/><path d="M460.9 335.2 L461.0 336.2 L461.1 337.2 L461.0 338.2 L460.9 339.3 L460.7 340.4 L460.5 341.5 L460.1 342.7 L459.7 343.8 L459.3 345.0 L458.7 346.1 L458.1 347.2 L457.5 348.3 L456.8 349.4 L456.0 350.5 L455.2 351.5 L454.4 352.5 L453.5 353.5 L452.5 354.4 L451.6 355.2 L450.6 356.0 L449.6 356.7 L448.6 357.4 L447.5 358.0 L446.5 358.5 L445.5 359.0 L444.4 359.3 L443.4 359.6 L442.4 359.9 L441.5 360.0 L440.5 360.0 L439.6 360.0 L438.7 359.9 L437.8 359.7 L437.0 359.4 L436.3 359.1 L435.6 358.7 L434.9 358.2 L434.4 357.6 L433.8 356.9" fill="#fff"/></g>
<circle cx="436.5" cy="335.7" r="3.4" fill="#fff" stroke-width="1.3"/><circle cx="436.5" cy="335.7" r="1.5" fill="#666" stroke="none"/>
<circle cx="465.3" cy="334.1" r="3.4" fill="#fff" stroke-width="1.3"/><circle cx="465.3" cy="334.1" r="1.5" fill="#666" stroke="none"/>
<circle cx="443.3" cy="363.4" r="3.4" fill="#fff" stroke-width="1.3"/><circle cx="443.3" cy="363.4" r="1.5" fill="#666" stroke="none"/>
<g stroke-width="0.7" stroke="#555"><path d="M386 304 L398 311"/><path d="M484 374.6 L495 381.5"/><path d="M562 431 L578 441.6"/><path d="M565 434.4 L608.4 466.3" stroke-dasharray="6 2 1.5 2"/></g>
<g stroke-width="1.3"><path d="M553 386 L517.5 371.2 L517.5 371.2 C515.5 372.0 508.8 373.5 505.2 376.2 C501.6 378.9 498.4 383.3 495.8 387.2 C493.2 391.1 490.9 395.5 489.5 399.7 C488.1 403.9 487.4 408.1 487.4 412.3 C487.4 416.5 488.1 421.1 489.5 424.9 C490.9 428.7 493.2 432.4 495.8 435.3 C498.4 438.2 501.9 440.4 505.2 442.6 C508.5 444.8 512.2 446.4 515.7 448.5 C519.2 450.6 524.3 454.3 526.0 455.5 L540 440 Z" fill="#fff"/><path d="M564.5 432.9 L563.3 435.2 L562.0 437.4 L560.6 439.5 L559.0 441.6 L557.4 443.5 L555.7 445.3 L554.0 447.0 L552.1 448.6 L550.2 450.0 L548.3 451.3 L546.3 452.4 L544.3 453.4 L542.3 454.2 L540.2 454.9 L538.2 455.4 L536.2 455.7 L534.2 455.8 L532.3 455.8 L530.3 455.6 L528.5 455.2 L526.7 454.7 L524.9 454.0 L523.3 453.1 L521.7 452.1 L520.2 450.9 L518.9 449.5 L517.6 448.1 L516.5 446.4 L515.4 444.7 L514.6 442.8 L513.8 440.9 L513.2 438.8 L512.7 436.7 L512.3 434.4 L512.1 432.1 L512.0 429.8 L512.1 427.4 L512.3 425.0 L512.7 422.5 L513.2 420.1 L513.8 417.6 L514.6 415.2 L515.5 412.8 L516.5 410.4 L517.7 408.1 L518.9 405.9 L520.3 403.7 L521.8 401.6 L523.4 399.7 L525.0 397.8 L526.8 396.0 L528.6 394.4 L530.4 392.9 L532.3 391.5 L534.3 390.3 L536.3 389.3 L538.3 388.4 L540.3 387.6 L542.4 387.1 L544.4 386.7 L546.4 386.4 L548.4 386.4 L550.3 386.5 L552.2 386.8 L554.0 387.2 L555.8 387.9 L557.5 388.6 L559.1 389.6 L560.6 390.7 L562.1 392.0 L563.4 393.4 L564.6 394.9 L565.7 396.6 L566.6 398.4 L567.4 400.3 L568.1 402.3 L568.7 404.4 L569.1 406.6 L569.4 408.9 L569.6 411.2 L569.5 413.6 L569.4 416.0 L569.1 418.5 L568.7 420.9 L568.1 423.4 L567.4 425.8 L566.6 428.2 L565.6 430.6 L564.5 432.9 Z" fill="#fff"/><path d="M523.3 451.3 L522.1 450.4 L520.9 449.4 L519.8 448.3 L518.8 447.1 L517.8 445.8 L517.0 444.4 L516.2 443.0 L515.6 441.4 L515.0 439.8 L514.5 438.1 L514.1 436.3 L513.8 434.5 L513.6 432.6 L513.5 430.7 L513.5 428.8 L513.6 426.8 L513.8 424.8 L514.1 422.8 L514.6 420.8 L515.0 418.8 L515.6 416.8 L516.3 414.8 L517.1 412.8 L518.0 410.9 L518.9 409.0 L519.9 407.1 L521.0 405.3 L522.2 403.6 L523.5 401.9 L524.8 400.3 L526.1 398.8 L527.5 397.3 L529.0 396.0 L530.5 394.7 L532.1 393.5 L533.7 392.5 L535.3 391.5 L536.9 390.6 L538.5 389.9 L540.2 389.2 L541.8 388.7 L543.5 388.3 L545.1 388.0 L546.7 387.9 L548.3 387.9 L549.9 387.9 L551.5 388.1 L553.0 388.5 L554.4 388.9" /></g>
<g stroke-width="1.3"><path d="M515.4 384.2 L520.1 379.0 L528.6 375.7 L533.3 377.5 L539.0 383.2 L537.1 385.6 L527.6 390.3 L525.3 392.6 L516.3 387.5 Z" fill="#fff"/><path d="M516.8 385.2 L526.7 390.8" stroke-width="1.1"/></g>
<g stroke-width="1.3"><path d="M547.9 390.3 L553.1 388.4 L561.6 393.6 L562.5 396.4 L559.7 411.5 L547.5 404.0 Z" fill="#fff"/><path d="M549.5 391.5 L549.5 403.5 L559.0 409.0" stroke-width="1.1"/></g>
<g stroke-width="1.3"><path d="M497.9 416.4 L510.2 422.3 L508.0 438.9 L496.8 434.1 L495.7 420.7 Z" fill="#fff"/><path d="M496.8 419.3 L509.1 425.2" stroke-width="1.1"/></g>
<g stroke-width="1.3"><path d="M520.4 438.4 L533.2 429.8 L544.5 435.7 L542.9 438.9 L531.1 445.9 L521.4 440.0 Z" fill="#fff"/><path d="M522.0 438.6 L533.2 431.6 L543.5 436.5" stroke-width="1.1"/></g>
<g stroke-width="1.3"><path d="M588.9 452.2 L587.9 453.7 L586.9 455.1 L585.8 456.3 L584.6 457.4 L583.4 458.4 L582.1 459.2 L580.8 459.8 L579.5 460.2 L578.3 460.4 L577.1 460.4 L576.0 460.2 L575.0 459.8 L574.1 459.2 L573.3 458.5 L572.6 457.5 L572.1 456.4 L571.8 455.2 L571.6 453.8 L571.5 452.3 L571.6 450.8 L571.9 449.2 L572.4 447.7 L573.0 446.1 L573.7 444.5 L574.6 443.0 L575.6 441.6 L576.6 440.3 L577.8 439.1 L579.0 438.1 L580.3 437.2 L581.5 436.5 L582.8 436.0 L584.1 435.7 L585.3 435.6 L586.4 435.7 L587.5 436.0 L588.5 436.5 L589.3 437.1 L590.1 438.0 L590.7 439.0 L591.1 440.2 L591.4 441.5 L591.5 442.9 L591.4 444.4 L591.2 446.0 L590.9 447.6 L590.3 449.1 L589.7 450.7 L588.9 452.2 Z" fill="#fff"/><path d="M589.1 452.0 L588.2 453.3 L587.3 454.5 L586.4 455.6 L585.3 456.6 L584.3 457.5 L583.2 458.2 L582.1 458.8 L581.0 459.2 L580.0 459.4 L579.0 459.5 L578.0 459.3 L577.2 459.0 L576.4 458.5 L575.8 457.9 L575.3 457.0 L574.9 456.1 L574.6 455.0 L574.5 453.8 L574.5 452.6 L574.6 451.2 L574.9 449.9 L575.4 448.5 L575.9 447.1 L576.6 445.7 L577.3 444.3 L578.2 443.1 L579.1 441.9 L580.1 440.8 L581.2 439.9 L582.3 439.1 L583.4 438.5 L584.5 438.0 L585.5 437.7 L586.5 437.5 L587.5 437.6 L588.4 437.8 L589.2 438.2 L589.9 438.8 L590.5 439.5 L590.9 440.4 L591.3 441.4 L591.5 442.6 L591.5 443.8 L591.4 445.1 L591.2 446.4 L590.9 447.8 L590.4 449.2 L589.8 450.6 L589.1 452.0 Z" /><path d="M577.6 447.0 L583.0 442.0 L591.0 443.0 L596.5 451.0 L594.0 460.0 L588.0 463.0 L580.0 460.0 Z" fill="#fff"/><circle cx="590" cy="453.5" r="4.5" fill="#333"/></g>
<g stroke-width="1.5"><path d="M116.2 172.2 L114.7 174.5 L113.0 176.8 L111.2 179.0 L109.4 181.0 L107.4 182.9 L105.4 184.7 L103.4 186.3 L101.3 187.8 L99.2 189.1 L97.0 190.2 L94.9 191.1 L92.8 191.8 L90.7 192.3 L88.7 192.6 L86.7 192.7 L84.8 192.7 L82.9 192.4 L81.2 191.8 L79.5 191.1 L78.0 190.2 L76.5 189.2 L75.3 187.9 L74.1 186.4 L73.1 184.8 L72.2 183.1 L71.5 181.2 L71.0 179.1 L70.6 177.0 L70.4 174.7 L70.4 172.4 L70.6 169.9 L70.9 167.4 L71.3 164.9 L72.0 162.3 L72.8 159.7 L73.7 157.2 L74.8 154.6 L76.1 152.1 L77.4 149.6 L78.9 147.2 L80.6 144.9 L82.3 142.7 L84.1 140.6 L86.0 138.6 L88.0 136.7 L90.0 135.0 L92.1 133.5 L94.2 132.1 L96.3 130.9 L98.4 129.9 L100.5 129.1 L102.6 128.5 L104.7 128.1 L106.7 127.9 L108.7 127.9 L110.6 128.1 L112.4 128.5 L114.1 129.1 L115.7 129.9 L117.2 130.9 L118.5 132.1 L119.7 133.4 L120.8 134.9 L121.8 136.6 L122.5 138.5 L123.1 140.4 L123.6 142.5 L123.9 144.7 L124.0 147.1 L123.9 149.5 L123.7 151.9 L123.3 154.4 L122.8 157.0 L122.0 159.6 L121.2 162.1 L120.1 164.7 L119.0 167.3 L117.7 169.7 L116.2 172.2 Z" fill="#fff"/><path d="M111.8 178.1 L118.0 169.0 L122.8 172.6 L126.8 175.6 L120.6 184.7 L115.8 181.1 Z" fill="#fff"/><path d="M122.0 172.0 L126.8 175.5 L120.6 184.7 L115.8 181.1 Z" fill="#fff"/><path d="M114.1 185.4 L125.3 168.8 L128.3 170.5 L132.3 173.5 L120.6 190.9 L116.6 187.9 Z" fill="#fff"/><path d="M129.3 171.8 L132.3 173.5 L120.6 190.9 L118.1 188.4 Z" fill="#fff"/><path d="M123.3 153.8 L123.7 144.4 L130.8 141.4 L134.8 144.4 L134.4 153.8 L127.3 156.8 Z" fill="#fff"/><path d="M127.7 147.4 L134.8 144.4 L134.4 153.8 L127.3 156.8 Z" fill="#fff"/><path d="M130.3 154.6 L131.0 137.6 L135.2 135.4 L139.2 138.4 L138.4 156.3 L134.3 157.6 Z" fill="#fff"/><path d="M135.0 140.6 L139.2 138.4 L138.4 156.3 L134.3 157.6 Z" fill="#fff"/><path d="M93.6 191.4 L101.9 187.2 L105.9 190.2 L106.1 198.1 L97.8 202.3 L93.8 199.3 Z" fill="#fff"/><path d="M105.9 190.2 L106.1 198.1 L97.8 202.3 L97.6 194.4 Z" fill="#fff"/><path d="M90.1 205.7 L90.4 201.0 L105.4 193.4 L109.4 196.4 L109.9 200.8 L94.1 208.7 Z" fill="#fff"/><path d="M109.4 196.4 L109.9 200.8 L94.1 208.7 L94.4 204.0 Z" fill="#fff"/><path d="M117.3 131.2 L123.3 124.0 L127.3 127.0 L131.7 132.7 L125.7 139.8 L121.7 136.8 Z" fill="#fff"/><path d="M121.3 134.2 L127.3 127.0 L131.7 132.7 L125.7 139.8 Z" fill="#fff"/><path d="M121.5 121.7 L124.8 117.3 L128.8 120.3 L137.2 131.2 L133.5 135.0 L129.5 132.0 Z" fill="#fff"/><path d="M125.5 124.7 L128.8 120.3 L137.2 131.2 L133.5 135.0 Z" fill="#fff"/><path d="M75.2 199.3 L79.1 190.8 L86.0 192.6 L90.0 195.6 L86.0 204.1 L79.2 202.3 Z" fill="#fff"/><path d="M90.0 195.6 L86.0 204.1 L79.1 202.3 L83.1 193.8 Z" fill="#fff"/><path d="M69.7 203.4 L72.3 198.5 L84.8 201.8 L88.8 204.8 L86.9 209.8 L73.7 206.4 Z" fill="#fff"/><path d="M88.8 204.8 L86.9 209.9 L73.7 206.4 L76.3 201.5 Z" fill="#fff"/><path d="M70.4 172.3 L70.6 169.9 L70.9 167.4 L71.3 164.9 L72.0 162.3 L72.8 159.7 L73.7 157.2 L74.8 154.6 L76.1 152.1 L77.5 149.6 L79.0 147.2 L80.6 144.9 L82.3 142.7 L84.1 140.6 L86.0 138.6 L88.0 136.7 L90.0 135.1 L92.1 133.5 L94.2 132.1 L96.3 130.9 L98.4 129.9 L100.5 129.1 L102.7 128.5 L104.7 128.1 L106.7 127.9 L108.7 127.9 L110.6 128.1 L112.4 128.5 L114.1 129.1 L115.7 129.9 L117.2 130.9 L121.2 133.9 L122.5 135.1 L123.7 136.4 L124.8 137.9 L125.8 139.6 L126.5 141.5 L127.1 143.4 L127.6 145.5 L127.9 147.8 L128.0 150.1 L127.9 152.5 L127.7 154.9 L127.3 157.4 L126.8 160.0 L126.0 162.6 L125.2 165.2 L124.1 167.7 L123.0 170.2 L121.7 172.8 L120.2 175.2 L118.7 177.6 L117.0 179.8 L115.2 182.0 L113.4 184.0 L111.4 185.9 L109.4 187.7 L107.4 189.3 L105.3 190.8 L103.2 192.1 L101.0 193.2 L98.9 194.1 L96.8 194.8 L94.7 195.3 L92.7 195.6 L90.7 195.8 L88.8 195.7 L86.9 195.3 L85.2 194.8 L83.5 194.2 L82.0 193.2 L78.0 190.2 L76.5 189.2 L75.2 187.9 L74.1 186.4 L73.1 184.8 L72.2 183.1 L71.5 181.2 L71.0 179.1 L70.7 177.0 L70.5 174.7 Z" fill="#fff"/><path d="M120.2 175.2 L118.7 177.5 L117.0 179.8 L115.2 182.0 L113.4 184.0 L111.4 185.9 L109.4 187.7 L107.4 189.3 L105.3 190.8 L103.2 192.1 L101.0 193.2 L98.9 194.1 L96.8 194.8 L94.7 195.3 L92.7 195.6 L90.7 195.7 L88.8 195.7 L86.9 195.4 L85.2 194.8 L83.5 194.1 L82.0 193.2 L80.5 192.2 L79.3 190.9 L78.1 189.4 L77.1 187.8 L76.2 186.1 L75.5 184.2 L75.0 182.1 L74.6 180.0 L74.4 177.7 L74.4 175.4 L74.6 172.9 L74.9 170.4 L75.3 167.9 L76.0 165.3 L76.8 162.7 L77.7 160.2 L78.8 157.6 L80.1 155.1 L81.4 152.6 L82.9 150.2 L84.6 147.9 L86.3 145.7 L88.1 143.6 L90.0 141.6 L92.0 139.7 L94.0 138.0 L96.1 136.5 L98.2 135.1 L100.3 133.9 L102.4 132.9 L104.5 132.1 L106.6 131.5 L108.7 131.1 L110.7 130.9 L112.7 130.9 L114.6 131.1 L116.4 131.5 L118.1 132.1 L119.7 132.9 L121.2 133.9 L122.5 135.1 L123.7 136.4 L124.8 137.9 L125.8 139.6 L126.5 141.5 L127.1 143.4 L127.6 145.5 L127.9 147.7 L128.0 150.1 L127.9 152.5 L127.7 154.9 L127.3 157.4 L126.8 160.0 L126.0 162.6 L125.2 165.1 L124.1 167.7 L123.0 170.3 L121.7 172.7 L120.2 175.2 Z" fill="#fff"/><path d="M105.4 128.2 L108.6 119.5 L116.0 120.1 L120.0 123.1 L116.8 131.8 L109.4 131.2 Z" fill="#fff"/><path d="M109.4 131.2 L112.6 122.5 L120.0 123.1 L116.8 131.8 Z" fill="#fff"/><path d="M105.6 119.3 L107.1 114.2 L121.2 115.4 L125.2 118.4 L123.0 123.4 L109.6 122.3 Z" fill="#fff"/><path d="M109.6 122.3 L111.1 117.2 L125.2 118.4 L123.0 123.4 Z" fill="#fff"/><path d="M85.5 130.7 L93.6 124.7 L97.6 127.7 L99.2 134.7 L91.1 140.6 L87.1 137.6 Z" fill="#fff"/><path d="M91.1 140.6 L89.5 133.7 L97.6 127.7 L99.2 134.7 Z" fill="#fff"/><path d="M80.9 129.4 L96.3 118.0 L100.3 121.0 L100.9 125.3 L86.2 136.1 L82.2 133.1 Z" fill="#fff"/><path d="M86.2 136.1 L84.9 132.4 L100.3 121.0 L100.9 125.3 Z" fill="#fff"/><path d="M63.8 171.3 L65.9 161.3 L72.8 160.1 L76.8 163.1 L74.7 173.0 L67.8 174.3 Z" fill="#fff"/><path d="M74.7 173.0 L67.8 174.3 L69.9 164.3 L76.8 163.1 Z" fill="#fff"/><path d="M58.8 176.5 L62.8 157.6 L66.7 157.3 L70.7 160.3 L66.9 178.3 L62.8 179.5 Z" fill="#fff"/><path d="M66.9 178.3 L62.8 179.5 L66.8 160.6 L70.7 160.3 Z" fill="#fff"/><path d="M70.9 149.4 L76.8 140.2 L81.8 143.5 L85.8 146.5 L79.9 155.7 L74.9 152.4 Z" fill="#fff"/><path d="M79.9 155.7 L74.9 152.4 L80.8 143.2 L85.8 146.5 Z" fill="#fff"/><path d="M65.3 151.7 L76.6 134.0 L80.6 137.0 L83.2 139.4 L72.5 156.2 L69.3 154.7 Z" fill="#fff"/><path d="M72.4 156.2 L69.3 154.7 L80.6 137.0 L83.2 139.4 Z" fill="#fff"/><path d="M113.2 170.8 L112.2 172.3 L111.2 173.7 L110.1 175.1 L108.9 176.4 L107.7 177.6 L106.4 178.7 L105.1 179.8 L103.8 180.7 L102.4 181.5 L101.1 182.2 L99.8 182.8 L98.4 183.2 L97.1 183.5 L95.8 183.7 L94.6 183.8 L93.3 183.7 L92.2 183.6 L91.1 183.2 L90.0 182.8 L89.0 182.2 L88.1 181.5 L87.3 180.7 L86.6 179.8 L86.0 178.8 L85.4 177.7 L85.0 176.5 L84.7 175.2 L84.4 173.8 L84.3 172.4 L84.3 170.9 L84.4 169.4 L84.6 167.8 L84.9 166.2 L85.3 164.6 L85.8 162.9 L86.4 161.3 L87.1 159.7 L87.8 158.1 L88.7 156.6 L89.7 155.0 L90.7 153.6 L91.8 152.2 L92.9 150.8 L94.1 149.6 L95.4 148.4 L96.6 147.3 L98.0 146.4 L99.3 145.5 L100.6 144.7 L102.0 144.1 L103.3 143.6 L104.6 143.2 L105.9 142.9 L107.2 142.8 L108.5 142.8 L109.7 142.9 L110.8 143.2 L111.9 143.6 L112.9 144.1 L113.8 144.7 L114.7 145.4 L115.4 146.3 L116.1 147.3 L116.7 148.3 L117.2 149.5 L117.6 150.7 L117.9 152.1 L118.1 153.5 L118.1 154.9 L118.1 156.4 L118.0 158.0 L117.7 159.6 L117.4 161.2 L116.9 162.8 L116.3 164.5 L115.7 166.1 L115.0 167.7 L114.1 169.3 L113.2 170.8 Z" fill="#fff"/><path d="M85.8 182.7 L84.9 181.6 L84.1 180.3 L83.5 178.9 L83.0 177.3 L82.7 175.7 L82.4 173.9 L82.4 172.1 L82.5 170.1 L82.7 168.2 L83.1 166.2 L83.7 164.1 L84.3 162.1 L85.1 160.1 L86.1 158.1 L87.2 156.1 L88.3 154.2 L89.6 152.4 L91.0 150.6 L92.4 149.0 L93.9 147.5 L95.5 146.1 L97.2 144.8 L98.8 143.7 L100.5 142.7 L102.2 141.9 L103.9 141.3 L105.5 140.9 L107.1 140.6 L108.7 140.5 L110.2 140.6 L111.6 140.9 L113.0 141.4 L114.3 142.0 L115.4 142.8 L116.5 143.8 L117.4 144.9 L118.2 146.2 L118.8 147.6 L119.4 149.1" /><ellipse cx="92.7" cy="146.4" rx="1.6" ry="2" /><ellipse cx="119.6" cy="144.0" rx="1.6" ry="2" /><ellipse cx="110.3" cy="179.6" rx="1.6" ry="2" /><ellipse cx="83.3" cy="183.5" rx="1.6" ry="2" /></g>
<g stroke-width="1.5"><path d="M57.5 188.8 L57.8 187.4 L58.4 186.2 L59.1 185.0 L60.1 184.1 L61.3 183.5 L62.5 183.1 L63.8 183.0 L65.1 183.2 L66.3 183.8 L73.1 188.7 L74.1 189.4 L74.9 190.4 L75.5 191.5 L75.9 192.7 L76.0 194.0 L75.9 195.3 L75.5 196.5 L74.9 197.6 L74.1 198.6 L73.1 199.3 L72.0 199.8 L70.8 200.0 L69.6 199.9 L68.5 199.6 L61.3 195.5 L60.1 194.9 L59.1 194.0 L58.4 192.8 L57.8 191.6 L57.5 190.2 Z" fill="#fff"/><ellipse cx="70.5" cy="194" rx="5.3" ry="5.9" fill="#fff"/><ellipse cx="71" cy="194.3" rx="3.3" ry="3.7" fill="#fff" stroke-width="2.2"/></g>
<g stroke-width="1.3"><path d="M284.0 172.0 L283.3 172.4 L282.4 172.8 L281.2 173.3 L280.0 173.9 L278.6 174.5 L277.1 175.2 L275.6 176.0 L274.1 176.8 L272.5 177.6 L271.0 178.5 L269.5 179.4 L268.1 180.3 L266.7 181.2 L265.4 182.2 L264.0 183.3 L262.7 184.3 L261.3 185.5 L260.0 186.6 L258.7 187.8 L257.4 189.0 L256.2 190.2 L254.9 191.4 L253.7 192.6 L252.6 193.8 L251.5 195.0 L250.4 196.2 L249.4 197.5 L248.4 198.7 L247.4 199.9 L246.5 201.2 L245.6 202.5 L244.6 203.8 L243.8 205.1 L242.9 206.5 L242.0 207.8 L241.1 209.3 L240.2 210.7 L239.4 212.2 L238.6 213.7 L237.8 215.2 L237.0 216.8 L236.2 218.4 L235.4 220.0 L234.6 221.6 L233.8 223.2 L233.1 224.9 L232.3 226.6 L231.5 228.3 L230.7 230.0 L229.9 231.8 L229.1 233.7 L228.2 235.6 L227.4 237.5 L226.6 239.4 L225.8 241.4 L225.0 243.3 L224.2 245.3 L223.4 247.2 L222.7 249.1 L222.0 251.1 L221.4 253.0 L220.7 254.8 L220.1 256.7 L219.5 258.6 L219.0 260.4 L218.4 262.3 L217.9 264.2 L217.3 266.1 L216.8 268.0 L216.3 269.9 L215.8 271.9 L215.4 273.9 L214.9 276.0 L214.4 278.1 L214.0 280.3 L213.5 282.6 L213.1 284.8 L212.7 287.1 L212.3 289.3 L212.0 291.5 L211.6 293.7 L211.2 295.8 L210.9 297.7 L210.5 299.6 L210.2 301.4 L209.9 303.2 L209.5 305.1 L209.2 306.8 L208.9 308.6 L208.6 310.2 L208.3 311.8 L208.0 313.2 L207.8 314.5 L207.6 315.7 L207.4 316.8 L207.2 317.6 L211.6 318.4 L211.7 317.5 L211.9 316.5 L212.1 315.3 L212.4 314.0 L212.6 312.6 L212.9 311.0 L213.2 309.3 L213.5 307.6 L213.9 305.9 L214.2 304.0 L214.5 302.2 L214.9 300.4 L215.2 298.5 L215.6 296.5 L215.9 294.4 L216.3 292.3 L216.7 290.1 L217.1 287.9 L217.5 285.6 L217.9 283.4 L218.3 281.2 L218.7 279.0 L219.2 276.9 L219.6 274.9 L220.1 272.9 L220.6 271.0 L221.1 269.1 L221.6 267.2 L222.1 265.4 L222.6 263.5 L223.2 261.7 L223.7 259.9 L224.3 258.1 L224.9 256.2 L225.5 254.4 L226.2 252.5 L226.8 250.7 L227.6 248.8 L228.3 246.9 L229.1 244.9 L229.8 243.0 L230.6 241.1 L231.5 239.2 L232.3 237.3 L233.1 235.5 L233.9 233.6 L234.7 231.9 L235.5 230.1 L236.3 228.4 L237.1 226.7 L237.8 225.1 L238.6 223.5 L239.3 221.9 L240.1 220.3 L240.9 218.8 L241.7 217.3 L242.4 215.8 L243.2 214.4 L244.0 212.9 L244.9 211.5 L245.7 210.2 L246.6 208.8 L247.4 207.5 L248.3 206.3 L249.1 205.0 L250.0 203.8 L250.9 202.6 L251.8 201.4 L252.8 200.3 L253.8 199.1 L254.8 197.9 L255.8 196.8 L256.9 195.6 L258.0 194.5 L259.2 193.3 L260.4 192.2 L261.7 191.0 L262.9 189.9 L264.2 188.8 L265.5 187.8 L266.8 186.7 L268.0 185.7 L269.3 184.8 L270.5 183.9 L271.8 183.1 L273.2 182.3 L274.6 181.5 L276.1 180.7 L277.6 179.9 L279.0 179.2 L280.5 178.5 L281.8 177.9 L283.1 177.3 L284.2 176.8 L285.2 176.4 L286.0 176.0 Z" fill="#fff" stroke="none"/><path d="M284.0 172.0 L283.3 172.4 L282.4 172.8 L281.2 173.3 L280.0 173.9 L278.6 174.5 L277.1 175.2 L275.6 176.0 L274.1 176.8 L272.5 177.6 L271.0 178.5 L269.5 179.4 L268.1 180.3 L266.7 181.2 L265.4 182.2 L264.0 183.3 L262.7 184.3 L261.3 185.5 L260.0 186.6 L258.7 187.8 L257.4 189.0 L256.2 190.2 L254.9 191.4 L253.7 192.6 L252.6 193.8 L251.5 195.0 L250.4 196.2 L249.4 197.5 L248.4 198.7 L247.4 199.9 L246.5 201.2 L245.6 202.5 L244.6 203.8 L243.8 205.1 L242.9 206.5 L242.0 207.8 L241.1 209.3 L240.2 210.7 L239.4 212.2 L238.6 213.7 L237.8 215.2 L237.0 216.8 L236.2 218.4 L235.4 220.0 L234.6 221.6 L233.8 223.2 L233.1 224.9 L232.3 226.6 L231.5 228.3 L230.7 230.0 L229.9 231.8 L229.1 233.7 L228.2 235.6 L227.4 237.5 L226.6 239.4 L225.8 241.4 L225.0 243.3 L224.2 245.3 L223.4 247.2 L222.7 249.1 L222.0 251.1 L221.4 253.0 L220.7 254.8 L220.1 256.7 L219.5 258.6 L219.0 260.4 L218.4 262.3 L217.9 264.2 L217.3 266.1 L216.8 268.0 L216.3 269.9 L215.8 271.9 L215.4 273.9 L214.9 276.0 L214.4 278.1 L214.0 280.3 L213.5 282.6 L213.1 284.8 L212.7 287.1 L212.3 289.3 L212.0 291.5 L211.6 293.7 L211.2 295.8 L210.9 297.7 L210.5 299.6 L210.2 301.4 L209.9 303.2 L209.5 305.1 L209.2 306.8 L208.9 308.6 L208.6 310.2 L208.3 311.8 L208.0 313.2 L207.8 314.5 L207.6 315.7 L207.4 316.8 L207.2 317.6" /><path d="M286.0 176.0 L285.2 176.4 L284.2 176.8 L283.1 177.3 L281.8 177.9 L280.5 178.5 L279.0 179.2 L277.6 179.9 L276.1 180.7 L274.6 181.5 L273.2 182.3 L271.8 183.1 L270.5 183.9 L269.3 184.8 L268.0 185.7 L266.8 186.7 L265.5 187.8 L264.2 188.8 L262.9 189.9 L261.7 191.0 L260.4 192.2 L259.2 193.3 L258.0 194.5 L256.9 195.6 L255.8 196.8 L254.8 197.9 L253.8 199.1 L252.8 200.3 L251.8 201.4 L250.9 202.6 L250.0 203.8 L249.1 205.0 L248.3 206.3 L247.4 207.5 L246.6 208.8 L245.7 210.2 L244.9 211.5 L244.0 212.9 L243.2 214.4 L242.4 215.8 L241.7 217.3 L240.9 218.8 L240.1 220.3 L239.3 221.9 L238.6 223.5 L237.8 225.1 L237.1 226.7 L236.3 228.4 L235.5 230.1 L234.7 231.9 L233.9 233.6 L233.1 235.5 L232.3 237.3 L231.5 239.2 L230.6 241.1 L229.8 243.0 L229.1 244.9 L228.3 246.9 L227.6 248.8 L226.8 250.7 L226.2 252.5 L225.5 254.4 L224.9 256.2 L224.3 258.1 L223.7 259.9 L223.2 261.7 L222.6 263.5 L222.1 265.4 L221.6 267.2 L221.1 269.1 L220.6 271.0 L220.1 272.9 L219.6 274.9 L219.2 276.9 L218.7 279.0 L218.3 281.2 L217.9 283.4 L217.5 285.6 L217.1 287.9 L216.7 290.1 L216.3 292.3 L215.9 294.4 L215.6 296.5 L215.2 298.5 L214.9 300.4 L214.5 302.2 L214.2 304.0 L213.9 305.9 L213.5 307.6 L213.2 309.3 L212.9 311.0 L212.6 312.6 L212.4 314.0 L212.1 315.3 L211.9 316.5 L211.7 317.5 L211.6 318.4" /><path d="M284.0 172.0 L286.0 176.0" /><path d="M207.2 317.6 L211.6 318.4" /><path d="M285.0 172.2 L290.5 170.8 L291.2 172.6 L286.0 175.4 Z" fill="#fff"/><path d="M292.9 169.8 L296 168.6" stroke-width="0.8"/><path d="M316.6 141.5 C315.9 142.0 313.4 143.1 312.5 144.5 C311.6 145.9 311.5 147.9 311.5 150.0 C311.5 152.1 312.3 155.7 312.5 156.8 L353.1 168.3 L355.4 152 Z" fill="#fff"/><path d="M361.1 161.3 L360.5 163.1 L359.8 164.7 L358.9 166.1 L357.9 167.3 L356.9 168.1 L355.8 168.5 L354.8 168.6 L353.8 168.3 L353.0 167.5 L352.4 166.5 L351.9 165.1 L351.7 163.5 L351.7 161.8 L351.9 160.0 L352.4 158.2 L353.0 156.5 L353.8 154.9 L354.8 153.7 L355.8 152.7 L356.9 152.0 L357.9 151.8 L358.9 151.9 L359.8 152.5 L360.5 153.3 L361.1 154.6 L361.4 156.0 L361.5 157.7 L361.4 159.5 L361.1 161.3 Z" fill="#fff"/><path d="M352.5 167.6 L351.8 167.5 L351.0 167.2 L350.4 166.6 L349.9 165.8 L349.5 164.7 L349.3 163.5 L349.2 162.1 L349.2 160.7 L349.5 159.2 L349.8 157.7 L350.3 156.3 L351.0 155.0 L351.7 153.8 L352.5 152.9 L353.3 152.1 L354.1 151.6 L355.0 151.4 L355.8 151.4 L356.5 151.7" /><path d="M309.6 153.5 L301.0 158.0 L297.5 166.0 L301.0 170.0 L311.0 162.5 L314.0 157.0 Z" fill="#fff"/><path d="M303.8 168.3 L303.0 169.5 L301.9 170.5 L300.7 171.1 L299.4 171.4 L298.2 171.3 L297.2 170.8 L296.4 170.0 L295.9 168.9 L295.6 167.6 L295.8 166.2 L296.2 164.8 L297.0 163.5 L298.0 162.4 L299.1 161.6 L300.3 161.1 L301.6 161.0 L302.7 161.3 L303.6 162.0 L304.3 162.9 L304.7 164.2 L304.7 165.5 L304.4 166.9 L303.8 168.3 Z" fill="#fff"/><path d="M301.9 168.1 L300.9 169.3 L299.7 170.1 L298.5 170.3 L297.5 169.9 L296.8 169.0 L296.7 167.7 L297.0 166.2 L297.8 164.8 L298.9 163.8 L300.1 163.3 L301.3 163.4 L302.1 164.1 L302.5 165.2 L302.4 166.6 L301.9 168.1 Z" fill="#666" stroke-width="1"/><path d="M295.0 142.0 L312.8 145.2 L312.2 152.8 L295.0 148.0 Z" fill="#fff"/><path d="M296.1 145.4 L295.6 146.4 L294.7 147.2 L293.7 147.8 L292.5 148.1 L291.2 148.1 L290.0 147.7 L289.0 147.1 L288.1 146.2 L287.5 145.1 L287.2 144.0 L287.3 142.8 L287.7 141.7 L288.4 140.7 L289.4 140.0 L290.5 139.6 L291.7 139.5 L293.0 139.7 L294.1 140.2 L295.1 140.9 L295.8 141.9 L296.3 143.0 L296.4 144.2 L296.1 145.4 Z" fill="#fff"/><path d="M296.1 141.9 L296.5 142.2 L296.8 142.7 L296.9 143.4 L296.8 144.2 L296.6 145.1 L296.3 146.0 L295.9 146.8 L295.4 147.4 L294.9 147.9 L294.3 148.1 L293.9 148.1" /><path d="M217.0 199.0 L220.5 198.0 L222.5 203.0 L219.0 212.0 L215.0 218.5 L208.0 227.0 L202.5 231.5 L199.5 229.0 L201.5 222.0 L206.5 214.0 L212.0 206.0 Z" fill="#fff" stroke-width="1.8"/><path d="M200.9 223.6 L206.9 227.2 M203.9 218.9 L209.9 222.5 M206.8 214.2 L212.8 217.8" stroke-width="2"/><path d="M213.5 207 L219 210 M215.5 203.5 L220.5 206.5" stroke-width="0.8" stroke="#555"/><path d="M201.0 229.0 L187.0 246.0 L176.5 263.0" stroke-width="2.8"/><path d="M201.0 229.0 L187.0 246.0 L176.5 263.0" stroke="#fff" stroke-width="1"/><path d="M173.7 262.1 L173.6 262.4 L173.4 262.8 L173.1 263.3 L172.8 263.8 L172.5 264.3 L172.2 265.0 L171.9 265.6 L171.6 266.3 L171.2 267.0 L170.9 267.7 L170.5 268.4 L170.2 269.2 L169.9 269.9 L169.5 270.6 L169.2 271.4 L168.9 272.1 L168.5 272.9 L168.2 273.7 L167.8 274.6 L167.5 275.4 L167.1 276.4 L166.8 277.3 L166.4 278.3 L166.0 279.3 L165.6 280.4 L165.2 281.5 L164.8 282.7 L164.4 284.0 L163.9 285.2 L163.5 286.6 L163.0 287.9 L162.6 289.2 L162.2 290.5 L161.8 291.9 L161.4 293.2 L161.1 294.5 L160.7 295.8 L160.4 297.0 L160.1 298.3 L159.8 299.6 L159.6 300.9 L159.3 302.2 L159.1 303.5 L158.8 304.7 L158.6 306.0 L158.4 307.2 L158.2 308.5 L158.0 309.7 L157.8 311.0 L157.7 312.3 L157.6 313.7 L157.4 315.1 L157.3 316.5 L157.2 317.8 L157.1 319.1 L157.0 320.3 L157.0 321.4 L156.9 322.4 L156.9 323.2 L156.8 323.8 L160.8 324.2 L160.8 323.5 L160.9 322.6 L161.0 321.6 L161.0 320.5 L161.1 319.3 L161.2 318.1 L161.3 316.8 L161.4 315.4 L161.5 314.1 L161.7 312.8 L161.8 311.5 L162.0 310.3 L162.2 309.1 L162.3 307.9 L162.6 306.7 L162.8 305.4 L163.0 304.2 L163.2 303.0 L163.5 301.7 L163.7 300.5 L164.0 299.2 L164.3 298.0 L164.6 296.7 L164.9 295.5 L165.3 294.3 L165.6 293.0 L166.0 291.7 L166.4 290.4 L166.8 289.1 L167.3 287.8 L167.7 286.5 L168.1 285.3 L168.6 284.1 L169.0 282.9 L169.4 281.7 L169.8 280.7 L170.1 279.7 L170.5 278.7 L170.9 277.8 L171.2 276.9 L171.5 276.1 L171.9 275.3 L172.2 274.5 L172.5 273.7 L172.9 273.0 L173.2 272.2 L173.5 271.5 L173.8 270.8 L174.1 270.1 L174.5 269.4 L174.8 268.8 L175.1 268.1 L175.5 267.4 L175.8 266.8 L176.1 266.2 L176.4 265.6 L176.7 265.1 L176.9 264.7 L177.1 264.2 L177.3 263.9 Z" fill="#fff" stroke="none"/><path d="M173.7 262.1 L173.6 262.4 L173.4 262.8 L173.1 263.3 L172.8 263.8 L172.5 264.3 L172.2 265.0 L171.9 265.6 L171.6 266.3 L171.2 267.0 L170.9 267.7 L170.5 268.4 L170.2 269.2 L169.9 269.9 L169.5 270.6 L169.2 271.4 L168.9 272.1 L168.5 272.9 L168.2 273.7 L167.8 274.6 L167.5 275.4 L167.1 276.4 L166.8 277.3 L166.4 278.3 L166.0 279.3 L165.6 280.4 L165.2 281.5 L164.8 282.7 L164.4 284.0 L163.9 285.2 L163.5 286.6 L163.0 287.9 L162.6 289.2 L162.2 290.5 L161.8 291.9 L161.4 293.2 L161.1 294.5 L160.7 295.8 L160.4 297.0 L160.1 298.3 L159.8 299.6 L159.6 300.9 L159.3 302.2 L159.1 303.5 L158.8 304.7 L158.6 306.0 L158.4 307.2 L158.2 308.5 L158.0 309.7 L157.8 311.0 L157.7 312.3 L157.6 313.7 L157.4 315.1 L157.3 316.5 L157.2 317.8 L157.1 319.1 L157.0 320.3 L157.0 321.4 L156.9 322.4 L156.9 323.2 L156.8 323.8" /><path d="M177.3 263.9 L177.1 264.2 L176.9 264.7 L176.7 265.1 L176.4 265.6 L176.1 266.2 L175.8 266.8 L175.5 267.4 L175.1 268.1 L174.8 268.8 L174.5 269.4 L174.1 270.1 L173.8 270.8 L173.5 271.5 L173.2 272.2 L172.9 273.0 L172.5 273.7 L172.2 274.5 L171.9 275.3 L171.5 276.1 L171.2 276.9 L170.9 277.8 L170.5 278.7 L170.1 279.7 L169.8 280.7 L169.4 281.7 L169.0 282.9 L168.6 284.1 L168.1 285.3 L167.7 286.5 L167.3 287.8 L166.8 289.1 L166.4 290.4 L166.0 291.7 L165.6 293.0 L165.3 294.3 L164.9 295.5 L164.6 296.7 L164.3 298.0 L164.0 299.2 L163.7 300.5 L163.5 301.7 L163.2 303.0 L163.0 304.2 L162.8 305.4 L162.6 306.7 L162.3 307.9 L162.2 309.1 L162.0 310.3 L161.8 311.5 L161.7 312.8 L161.5 314.1 L161.4 315.4 L161.3 316.8 L161.2 318.1 L161.1 319.3 L161.0 320.5 L161.0 321.6 L160.9 322.6 L160.8 323.5 L160.8 324.2" /><path d="M173.7 262.1 L177.3 263.9" /><path d="M156.8 323.8 L160.8 324.2" /><path d="M156.1 331.6 L156.1 332.5 L156.2 333.7 L156.2 335.1 L156.2 336.7 L156.3 338.4 L156.3 340.2 L156.4 342.1 L156.4 344.0 L156.5 346.0 L156.6 347.9 L156.8 349.8 L156.9 351.6 L157.1 353.3 L157.3 355.1 L157.5 356.9 L157.7 358.7 L158.0 360.6 L158.3 362.4 L158.5 364.2 L158.8 366.0 L159.1 367.8 L159.4 369.5 L159.7 371.1 L160.0 372.6 L160.4 374.2 L160.7 375.7 L161.1 377.2 L161.5 378.7 L162.0 380.1 L162.4 381.5 L162.8 382.7 L163.2 383.9 L163.5 385.0 L163.8 386.0 L164.1 386.8 L164.3 387.5 L167.5 386.5 L167.3 385.8 L167.1 385.0 L166.7 384.0 L166.4 382.9 L166.0 381.7 L165.6 380.5 L165.2 379.1 L164.8 377.7 L164.4 376.3 L164.0 374.9 L163.7 373.4 L163.4 372.0 L163.1 370.4 L162.8 368.9 L162.5 367.2 L162.2 365.5 L161.9 363.7 L161.6 361.9 L161.4 360.1 L161.1 358.3 L160.9 356.5 L160.7 354.7 L160.5 352.9 L160.3 351.2 L160.1 349.5 L160.0 347.7 L159.9 345.8 L159.8 343.9 L159.8 342.0 L159.7 340.1 L159.7 338.3 L159.6 336.6 L159.6 335.0 L159.6 333.6 L159.5 332.4 L159.5 331.4 Z" fill="#fff" stroke="none"/><path d="M156.1 331.6 L156.1 332.5 L156.2 333.7 L156.2 335.1 L156.2 336.7 L156.3 338.4 L156.3 340.2 L156.4 342.1 L156.4 344.0 L156.5 346.0 L156.6 347.9 L156.8 349.8 L156.9 351.6 L157.1 353.3 L157.3 355.1 L157.5 356.9 L157.7 358.7 L158.0 360.6 L158.3 362.4 L158.5 364.2 L158.8 366.0 L159.1 367.8 L159.4 369.5 L159.7 371.1 L160.0 372.6 L160.4 374.2 L160.7 375.7 L161.1 377.2 L161.5 378.7 L162.0 380.1 L162.4 381.5 L162.8 382.7 L163.2 383.9 L163.5 385.0 L163.8 386.0 L164.1 386.8 L164.3 387.5" /><path d="M159.5 331.4 L159.5 332.4 L159.6 333.6 L159.6 335.0 L159.6 336.6 L159.7 338.3 L159.7 340.1 L159.8 342.0 L159.8 343.9 L159.9 345.8 L160.0 347.7 L160.1 349.5 L160.3 351.2 L160.5 352.9 L160.7 354.7 L160.9 356.5 L161.1 358.3 L161.4 360.1 L161.6 361.9 L161.9 363.7 L162.2 365.5 L162.5 367.2 L162.8 368.9 L163.1 370.4 L163.4 372.0 L163.7 373.4 L164.0 374.9 L164.4 376.3 L164.8 377.7 L165.2 379.1 L165.6 380.5 L166.0 381.7 L166.4 382.9 L166.7 384.0 L167.1 385.0 L167.3 385.8 L167.5 386.5" /><path d="M156.1 331.6 L159.5 331.4" /><path d="M164.3 387.5 L167.5 386.5" /><path d="M165.9 387.0 L170.1 399.5 L173.2 407.9" stroke-width="1.6"/><path d="M173.2 408.9 L185.8 405.8 L187.9 412.0 L176.4 417.3 Z" fill="#fff"/><path d="M207.5 304.5 L215.4 304.8 L214.8 309.2 L207.0 308.8 Z" fill="#fff"/><path d="M199.5 340.0 C198.9 340.7 196.8 342.0 196.0 344.0 C195.2 346.0 195.1 349.0 194.8 352.0 C194.5 355.0 194.4 359.0 194.2 362.0 C194.0 365.0 193.5 368.0 193.5 370.0 C193.5 372.0 192.9 372.7 194.0 374.0 C195.1 375.3 197.7 377.7 200.0 378.0 C202.3 378.3 206.7 376.3 208.0 376.0" fill="#fff"/><path d="M200.7 320.0 L213.8 321.0 L213.2 340.0 L198.4 340.0 Z" fill="#fff"/><path d="M213.8 320.7 L213.6 321.2 L213.1 321.7 L212.3 322.1 L211.3 322.5 L210.1 322.7 L208.8 322.8 L207.4 322.8 L206.0 322.7 L204.6 322.4 L203.4 322.1 L202.3 321.6 L201.5 321.1 L200.9 320.6 L200.6 320.0 L200.7 319.5 L201.0 318.9 L201.7 318.5 L202.5 318.1 L203.7 317.8 L204.9 317.6 L206.3 317.6 L207.7 317.6 L209.1 317.8 L210.4 318.1 L211.6 318.5 L212.6 319.0 L213.3 319.5 L213.7 320.1 L213.8 320.7 Z" fill="#fff"/><path d="M199.8 325 Q206 328 213.4 324.7" stroke-width="1.7"/><path d="M199.8 328.3 Q206 331.3 213.4 328.0" stroke-width="1.7"/><path d="M199.8 331.4 Q206 334.4 213.4 331.09999999999997" stroke-width="1.7"/><path d="M199.8 334.6 Q206 337.6 213.4 334.3" stroke-width="1.7"/><path d="M199.8 337.7 Q206 340.7 213.4 337.4" stroke-width="1.7"/><path d="M196.0 340.5 L213.5 340.5 L213.8 346.0 L195.2 346.0 Z" fill="#fff"/><path d="M196 343 Q205 345.5 213.6 343" stroke-width="1.4"/><path d="M208.8 352.7 C209.3 352.3 208.8 350.8 212.0 350.4 C215.2 350.0 225.0 350.0 228.3 350.2 C231.6 350.4 230.1 350.1 231.8 351.3 C233.5 352.5 237.5 356.3 238.7 357.3 L237.5 378 L222.6 382.6 L205.3 376.8 Z" fill="#fff"/><path d="M208.8 352.7 L213.0 355.5 L224.9 361.3 L238.7 357.3" /><path d="M224.9 361.3 L222.6 382.6" /><path d="M214.5 356.1 L213.4 378.5" stroke-width="1.1"/><path d="M215.4 329.3 L219.6 327.2 L236.3 326.7 L245.2 330.4 L245.2 333.5 L239.5 342.9 L232.1 346.1 L216.4 345.0 Z" fill="#fff"/><path d="M219.6 327.2 L221.0 331.5 L245.2 333.5" stroke-width="1.6"/><path d="M235.3 337.0 L235.2 337.7 L234.7 338.4 L234.0 339.1 L233.0 339.6 L231.8 340.0 L230.5 340.2 L229.2 340.3 L228.0 340.1 L227.0 339.8 L226.3 339.3 L225.8 338.7 L225.7 338.0 L226.0 337.3 L226.6 336.7 L227.5 336.1 L228.6 335.6 L229.8 335.3 L231.1 335.1 L232.4 335.2 L233.5 335.4 L234.4 335.8 L235.0 336.4 L235.3 337.0 Z" /><circle cx="218.5" cy="339.8" r="1.3"/><path d="M201.0 378.5 L203.0 386.5 L214.5 388.5 L226.0 384.5 L229.5 381.5 L222.6 382.6 L205.3 376.8 Z" fill="#fff"/><path d="M187.5 374.5 L199.6 372.6" stroke-width="2.6"/><circle cx="187.6" cy="375.6" r="1.9" fill="#fff"/><circle cx="199.2" cy="373.6" r="1.7" fill="#fff"/><path d="M191.5 381.4 L198.4 381.4 L198.4 389.5 L192.7 391.8 Z" fill="#fff"/><circle cx="195.5" cy="386.6" r="1.3"/></g>
<g stroke-width="1.3"><path d="M241.0 342.0 L266.0 355.6" stroke-width="0.9"/><path d="M265.2 357.0 L286.2 368.1 L287.7 365.3 L266.8 354.2 Z" fill="#fff"/><circle cx="290.1" cy="368.4" r="4.5" fill="#fff" stroke-width="1.8"/><path d="M293.5 369.4 L291.5 371.4 L288.8 370.7 L288.1 368.0 L290.1 366.0 L292.8 366.7 Z" fill="#bbb" stroke-width="1.1"/><circle cx="290.8" cy="368.7" r="1.3" fill="#fff" stroke="none"/><path d="M230.0 385.0 L255.5 398.8" stroke-width="0.9"/><path d="M254.7 400.2 L274.9 411.6 L276.5 408.8 L256.3 397.4 Z" fill="#fff"/><circle cx="278.8" cy="412.0" r="4.5" fill="#fff" stroke-width="1.8"/><path d="M282.2 413.0 L280.2 415.0 L277.5 414.3 L276.8 411.6 L278.8 409.6 L281.5 410.3 Z" fill="#bbb" stroke-width="1.1"/><circle cx="279.5" cy="412.3" r="1.3" fill="#fff" stroke="none"/><path d="M134.0 132.5 L161.5 147.8" stroke-width="0.9"/><path d="M160.5 149.8 L179.0 159.3 L181.0 155.4 L162.5 145.8 Z" fill="#fff"/><path d="M160.5 149.8 L172.0 155.7 L174.0 151.8 L162.5 145.8 Z" fill="#111"/><circle cx="183.7" cy="159.3" r="5.2" fill="#fff" stroke-width="1.8"/><path d="M187.5 160.4 L185.2 162.7 L182.1 161.9 L181.3 158.8 L183.6 156.5 L186.7 157.3 Z" fill="#bbb" stroke-width="1.1"/><circle cx="184.4" cy="159.6" r="1.5" fill="#fff" stroke="none"/><path d="M92.0 204.5 L101.0 210.0" stroke-width="0.9"/><path d="M99.9 211.9 L119.5 223.4 L121.7 219.6 L102.1 208.1 Z" fill="#fff"/><path d="M99.9 211.9 L110.7 218.2 L112.9 214.4 L102.1 208.1 Z" fill="#111"/><circle cx="124.2" cy="223.6" r="5.2" fill="#fff" stroke-width="1.8"/><path d="M128.0 224.7 L125.7 227.0 L122.6 226.2 L121.8 223.1 L124.1 220.8 L127.2 221.6 Z" fill="#bbb" stroke-width="1.1"/><circle cx="124.9" cy="223.9" r="1.5" fill="#fff" stroke="none"/></g>
<g stroke-width="1.3"><path d="M129.8 126.3 L130.2 126.0 L130.6 125.7 L131.1 125.3 L131.7 124.9 L132.3 124.4 L133.0 123.9 L133.7 123.4 L134.4 122.8 L135.2 122.3 L135.9 121.8 L136.6 121.3 L137.3 120.8 L138.0 120.3 L138.7 119.8 L139.5 119.2 L140.3 118.6 L141.2 118.0 L142.0 117.5 L142.8 116.9 L143.5 116.4 L144.2 115.9 L144.8 115.5 L145.4 115.1 L145.8 114.8 L143.2 111.2 L142.8 111.5 L142.3 111.9 L141.7 112.3 L141.0 112.8 L140.2 113.3 L139.5 113.9 L138.6 114.4 L137.8 115.0 L137.0 115.6 L136.2 116.2 L135.4 116.7 L134.7 117.2 L134.0 117.7 L133.3 118.2 L132.6 118.8 L131.8 119.3 L131.1 119.8 L130.4 120.4 L129.7 120.9 L129.1 121.3 L128.5 121.8 L128.0 122.1 L127.6 122.5 L127.2 122.7 Z" fill="#fff" stroke="none"/><path d="M129.8 126.3 L130.2 126.0 L130.6 125.7 L131.1 125.3 L131.7 124.9 L132.3 124.4 L133.0 123.9 L133.7 123.4 L134.4 122.8 L135.2 122.3 L135.9 121.8 L136.6 121.3 L137.3 120.8 L138.0 120.3 L138.7 119.8 L139.5 119.2 L140.3 118.6 L141.2 118.0 L142.0 117.5 L142.8 116.9 L143.5 116.4 L144.2 115.9 L144.8 115.5 L145.4 115.1 L145.8 114.8" /><path d="M127.2 122.7 L127.6 122.5 L128.0 122.1 L128.5 121.8 L129.1 121.3 L129.7 120.9 L130.4 120.4 L131.1 119.8 L131.8 119.3 L132.6 118.8 L133.3 118.2 L134.0 117.7 L134.7 117.2 L135.4 116.7 L136.2 116.2 L137.0 115.6 L137.8 115.0 L138.6 114.4 L139.5 113.9 L140.2 113.3 L141.0 112.8 L141.7 112.3 L142.3 111.9 L142.8 111.5 L143.2 111.2" /><path d="M129.8 126.3 L127.2 122.7" /><path d="M145.8 114.8 L143.2 111.2" /><circle cx="130.5" cy="128" r="5" fill="#111"/><circle cx="128.6" cy="129.5" r="1.6" fill="#fff" stroke="none"/><path d="M142.0 109.5 L149.0 107.5 L151.0 115.5 L145.0 117.5 Z" fill="#fff"/><path d="M144 110.5 L147 116 M146.5 109 L149.5 114.5" stroke-width="1.6"/><path d="M149.3 108.6 L160.7 104.3 L162.9 112.9 L151.4 117.1 Z" fill="#fff"/><path d="M153.5 107.5 L155.5 115.5 M156.5 106.2 L158.5 114.5" stroke-width="1.5"/><path d="M161.4 103.6 C163.1 103.5 169.0 103.4 171.4 102.9 C173.8 102.5 173.1 101.2 175.7 100.9 C178.3 100.6 185.2 100.9 187.1 100.9 L187.1 111.4 L162.9 110.9 Z" fill="#fff"/><path d="M187.1 101.4 L195.7 101.4 L195.7 111.4 L187.1 111.4 Z" fill="#fff"/><path d="M187.1 104 H195.7 M187.1 108.5 H195.7" stroke-width="1.1"/><path d="M195.7 98.6 L214.3 98.6 L214.8 115.7 L195.7 115.0 Z" fill="#fff" stroke-width="1.6"/><path d="M197.9 100.2 L203.8 100.2 L203.8 107.8 L213.0 108.0 L213.0 110.6 L197.9 110.8 Z" fill="#111" stroke="none"/><path d="M203.8 100.8 H213.5" stroke-width="1"/><path d="M203.0 92.5 L203.6 89.0 L206.6 88.0 L209.6 89.0 L210.2 92.5 Z" fill="#222"/><rect x="203.2" y="92.5" width="6.8" height="6" fill="#fff" stroke-width="1.3"/><path d="M203.5 94.5 H209.8 M203.5 96.6 H209.8" stroke-width="1.1"/></g>
<g stroke-width="1.3"><path d="M121.0 68.5 C121.4 67.4 121.5 68.0 123.0 67.6 C124.5 67.2 127.9 66.6 130.0 66.2 C132.1 65.8 134.2 65.0 135.5 65.2 C136.8 65.4 137.2 65.8 137.6 67.5 C137.9 69.2 137.7 73.6 137.6 75.5 C137.5 77.4 138.4 78.1 136.8 78.8 C135.2 79.5 130.7 79.4 128.0 79.6 C125.3 79.8 121.6 80.7 120.4 79.8 C119.2 78.9 120.5 75.9 120.6 74.0 C120.7 72.1 120.6 69.6 121.0 68.5 Z" fill="#fff"/><path d="M133.9 73.0 L133.8 73.5 L133.6 74.0 L133.2 74.5 L132.6 74.9 L131.8 75.3 L131.0 75.6 L130.1 75.8 L129.1 75.9 L128.2 75.9 L127.3 75.8 L126.6 75.6 L125.9 75.3 L125.5 74.9 L125.2 74.5 L125.1 74.0 L125.3 73.5 L125.6 73.0 L126.1 72.5 L126.8 72.1 L127.6 71.7 L128.5 71.5 L129.4 71.3 L130.4 71.2 L131.3 71.3 L132.1 71.5 L132.8 71.7 L133.3 72.1 L133.7 72.5 L133.9 73.0 Z" /><path d="M130.0 73.6 L129.9 74.2 L129.5 74.6 L128.9 75.0 L128.2 75.1 L127.5 75.1 L126.9 74.8 L126.5 74.4 L126.4 73.9 L126.7 73.4 L127.2 73.0 L127.8 72.7 L128.6 72.7 L129.3 72.8 L129.8 73.2 L130.0 73.6 Z" /></g>
<g stroke-width="1.3"><path d="M156.7 67.0 L157.5 65.0 L159.5 64.2 L161.5 65.0 L162.2 68.8 L171.5 67.6 L173.8 69.3 L173.6 73.5 L170.6 77.0 L159.8 79.6 L156.9 77.6 Z" fill="#fff"/><path d="M156.9 70.8 L166.3 76.0 L173.7 70.5" stroke-width="1.1"/><circle cx="159.5" cy="67.2" r="1.3"/><circle cx="170" cy="71.8" r="1.1" fill="#111"/></g>
<g stroke-width="1.3"><path d="M171.5 73.5 L180 79.5" stroke-width="1"/><path d="M179.0 78.0 L183.0 80.0 L182.0 83.0 L178.2 81.0 Z" fill="#111"/><circle cx="186" cy="82.8" r="3.6" fill="#fff" stroke-width="1.5"/><circle cx="186.2" cy="83" r="1.8" fill="#666" stroke="none"/></g>
</svg>
</body></html>
